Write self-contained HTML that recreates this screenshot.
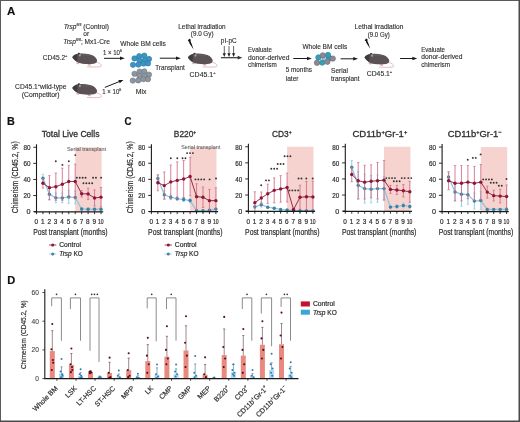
<!DOCTYPE html>
<html><head><meta charset="utf-8"><title>Figure</title>
<style>
html,body{margin:0;padding:0;background:#fff;}
body{width:520px;height:422px;overflow:hidden;position:relative;}
svg{display:block;will-change:transform;}
text{font-family:"Liberation Sans", sans-serif;}
</style></head>
<body>
<svg width="520" height="422" viewBox="0 0 520 422">
<rect x="0" y="0" width="520" height="422" fill="#ffffff"/>
<text x="6.90" y="14.87" font-size="10.2" font-weight="bold" fill="#111" stroke="#111" stroke-width="0.12" textLength="8.30" lengthAdjust="spacingAndGlyphs">A</text>
<text x="86.30" y="28.58" font-size="6.6" text-anchor="middle" fill="#2e2e2e" stroke="#2e2e2e" stroke-width="0.12"><tspan font-style="italic">Trsp</tspan><tspan baseline-shift="2.97" font-size="3.96">fl/fl</tspan> (Control)</text>
<text x="86.30" y="36.38" font-size="6.6" text-anchor="middle" fill="#2e2e2e" stroke="#2e2e2e" stroke-width="0.12">or</text>
<text x="86.50" y="43.88" font-size="6.6" text-anchor="middle" fill="#2e2e2e" stroke="#2e2e2e" stroke-width="0.12"><tspan font-style="italic">Trsp</tspan><tspan baseline-shift="2.97" font-size="3.96">fl/fl</tspan>; Mx1-Cre</text>
<text x="42.70" y="60.08" font-size="6.6" fill="#2e2e2e" stroke="#2e2e2e" stroke-width="0.12">CD45.2<tspan baseline-shift="2.97" font-size="3.96">+</tspan></text>
<text x="15.10" y="89.18" font-size="6.6" fill="#2e2e2e" stroke="#2e2e2e" stroke-width="0.12" textLength="51.40" lengthAdjust="spacingAndGlyphs">CD45.1<tspan baseline-shift="2.97" font-size="3.96">+</tspan>wild-type</text>
<text x="21.80" y="96.58" font-size="6.6" fill="#2e2e2e" stroke="#2e2e2e" stroke-width="0.12" textLength="37.70" lengthAdjust="spacingAndGlyphs">(Competitor)</text>
<g transform="translate(72.30,57.30) scale(1.0,1.0)"><path d="M23.6,4.8 C27.4,5.4 29.6,7.4 29.0,8.8 C28.2,9.9 22,9.8 14.6,9.5" fill="none" stroke="#d8a6a8" stroke-width="0.75"/><path d="M3.8,5.0 L4.6,6.6 L6.8,6.9 L6.6,5.4 Z" fill="#dcb0ae"/><path d="M14.6,6.2 L16.0,8.2 L18.6,8.4 L18.2,6.4 Z" fill="#dcb0ae"/><path d="M0,0 C0.6,-1.2 1.6,-2.0 2.6,-2.5 L5.2,-3.6 C5.8,-4.6 7.2,-5.0 7.8,-3.8 C11,-3.8 16,-3.6 19.5,-2.4 C22.5,-1.2 24.6,1.2 24.8,3.2 C24.9,4.8 23.8,6.0 21.5,6.4 C18,6.9 13,6.8 10,6.4 C7.6,6.1 5.8,5.6 4.8,4.8 C3.2,3.6 1.2,2.0 0,0 Z" fill="#5a5254"/><path d="M0,0 C0.6,-1.2 1.6,-2.0 2.6,-2.5 L4.6,-3.3 C5.2,-1.6 5.2,1.8 4.4,4.4 C3,3.4 1.2,1.9 0,0 Z" fill="#403a3c"/><path d="M9,-3.2 C13,-3.4 17,-3.0 20,-1.6 C17,-1.0 13,-1.2 9,-1.8 Z" fill="#625a5c"/><ellipse cx="6.6" cy="-3.5" rx="0.9" ry="1.0" fill="#3a3436"/><ellipse cx="7.6" cy="-2.0" rx="1.0" ry="1.3" fill="#a8979b"/></g>
<g transform="translate(72.30,87.90) scale(1.0,1.0)"><path d="M23.6,4.8 C27.4,5.4 29.6,7.4 29.0,8.8 C28.2,9.9 22,9.8 14.6,9.5" fill="none" stroke="#d8a6a8" stroke-width="0.75"/><path d="M3.8,5.0 L4.6,6.6 L6.8,6.9 L6.6,5.4 Z" fill="#dcb0ae"/><path d="M14.6,6.2 L16.0,8.2 L18.6,8.4 L18.2,6.4 Z" fill="#dcb0ae"/><path d="M0,0 C0.6,-1.2 1.6,-2.0 2.6,-2.5 L5.2,-3.6 C5.8,-4.6 7.2,-5.0 7.8,-3.8 C11,-3.8 16,-3.6 19.5,-2.4 C22.5,-1.2 24.6,1.2 24.8,3.2 C24.9,4.8 23.8,6.0 21.5,6.4 C18,6.9 13,6.8 10,6.4 C7.6,6.1 5.8,5.6 4.8,4.8 C3.2,3.6 1.2,2.0 0,0 Z" fill="#5a5254"/><path d="M0,0 C0.6,-1.2 1.6,-2.0 2.6,-2.5 L4.6,-3.3 C5.2,-1.6 5.2,1.8 4.4,4.4 C3,3.4 1.2,1.9 0,0 Z" fill="#403a3c"/><path d="M9,-3.2 C13,-3.4 17,-3.0 20,-1.6 C17,-1.0 13,-1.2 9,-1.8 Z" fill="#625a5c"/><ellipse cx="6.6" cy="-3.5" rx="0.9" ry="1.0" fill="#3a3436"/><ellipse cx="7.6" cy="-2.0" rx="1.0" ry="1.3" fill="#a8979b"/></g>
<line x1="104.00" y1="58.30" x2="121.44" y2="58.30" stroke="#1a1a1a" stroke-width="1.0"/>
<path d="M124.80,58.30 L120.00,60.10 L120.00,56.50 Z" fill="#1a1a1a"/>
<text x="102.90" y="54.78" font-size="6.6" fill="#2e2e2e" stroke="#2e2e2e" stroke-width="0.12" textLength="19.00" lengthAdjust="spacingAndGlyphs">1 × 10<tspan baseline-shift="2.97" font-size="3.96">6</tspan></text>
<line x1="104.80" y1="87.40" x2="120.38" y2="81.15" stroke="#1a1a1a" stroke-width="1.0"/>
<path d="M123.50,79.90 L119.72,83.36 L118.37,80.02 Z" fill="#1a1a1a"/>
<text x="102.30" y="93.98" font-size="6.6" fill="#2e2e2e" stroke="#2e2e2e" stroke-width="0.12" textLength="19.00" lengthAdjust="spacingAndGlyphs">1 × 10<tspan baseline-shift="2.97" font-size="3.96">6</tspan></text>
<text x="143.00" y="46.48" font-size="6.6" text-anchor="middle" fill="#2e2e2e" stroke="#2e2e2e" stroke-width="0.12">Whole BM cells</text>
<circle cx="134.50" cy="58.40" r="2.65" fill="#3b96c4" stroke="#2a76a2" stroke-width="0.6"/>
<circle cx="139.20" cy="56.20" r="2.65" fill="#3b96c4" stroke="#2a76a2" stroke-width="0.6"/>
<circle cx="144.30" cy="55.60" r="2.65" fill="#3b96c4" stroke="#2a76a2" stroke-width="0.6"/>
<circle cx="149.00" cy="59.00" r="2.65" fill="#3b96c4" stroke="#2a76a2" stroke-width="0.6"/>
<circle cx="139.60" cy="60.60" r="2.65" fill="#3b96c4" stroke="#2a76a2" stroke-width="0.6"/>
<circle cx="144.80" cy="60.20" r="2.65" fill="#3b96c4" stroke="#2a76a2" stroke-width="0.6"/>
<circle cx="133.00" cy="64.80" r="2.65" fill="#3b96c4" stroke="#2a76a2" stroke-width="0.6"/>
<circle cx="138.40" cy="64.60" r="2.65" fill="#3b96c4" stroke="#2a76a2" stroke-width="0.6"/>
<circle cx="143.60" cy="63.60" r="2.65" fill="#3b96c4" stroke="#2a76a2" stroke-width="0.6"/>
<circle cx="148.00" cy="63.40" r="2.65" fill="#3b96c4" stroke="#2a76a2" stroke-width="0.6"/>
<circle cx="134.50" cy="73.80" r="2.65" fill="#8d97a1" stroke="#6b757f" stroke-width="0.6"/>
<circle cx="139.60" cy="71.60" r="2.65" fill="#8d97a1" stroke="#6b757f" stroke-width="0.6"/>
<circle cx="144.30" cy="71.40" r="2.65" fill="#8d97a1" stroke="#6b757f" stroke-width="0.6"/>
<circle cx="149.00" cy="74.60" r="2.65" fill="#8d97a1" stroke="#6b757f" stroke-width="0.6"/>
<circle cx="139.40" cy="75.80" r="2.65" fill="#8d97a1" stroke="#6b757f" stroke-width="0.6"/>
<circle cx="144.60" cy="75.80" r="2.65" fill="#8d97a1" stroke="#6b757f" stroke-width="0.6"/>
<circle cx="132.80" cy="80.60" r="2.65" fill="#8d97a1" stroke="#6b757f" stroke-width="0.6"/>
<circle cx="138.20" cy="80.40" r="2.65" fill="#8d97a1" stroke="#6b757f" stroke-width="0.6"/>
<circle cx="143.40" cy="79.20" r="2.65" fill="#8d97a1" stroke="#6b757f" stroke-width="0.6"/>
<circle cx="148.00" cy="79.20" r="2.65" fill="#8d97a1" stroke="#6b757f" stroke-width="0.6"/>
<text x="135.80" y="93.78" font-size="6.6" fill="#2e2e2e" stroke="#2e2e2e" stroke-width="0.12" textLength="10.70" lengthAdjust="spacingAndGlyphs">Mix</text>
<line x1="159.80" y1="58.20" x2="177.44" y2="58.20" stroke="#1a1a1a" stroke-width="1.0"/>
<path d="M180.80,58.20 L176.00,60.00 L176.00,56.40 Z" fill="#1a1a1a"/>
<text x="155.20" y="69.68" font-size="6.6" fill="#2e2e2e" stroke="#2e2e2e" stroke-width="0.12" textLength="29.50" lengthAdjust="spacingAndGlyphs">Transplant</text>
<text x="178.30" y="28.68" font-size="6.6" fill="#2e2e2e" stroke="#2e2e2e" stroke-width="0.12" textLength="47.30" lengthAdjust="spacingAndGlyphs">Lethal irradiation</text>
<text x="190.80" y="36.48" font-size="6.6" fill="#2e2e2e" stroke="#2e2e2e" stroke-width="0.12" textLength="22.70" lengthAdjust="spacingAndGlyphs">(9.0 Gy)</text>
<path transform="translate(189.4,39.0) scale(1.0)" d="M-0.3,-0.3 L1.3,0.5 L1.2,2.6 L2.1,4.4 L4.2,10.4 L0.8,5.6 L-0.1,3.9 L-0.4,2.6 L-1.7,1.9 Z" fill="#111"/>
<g transform="translate(187.90,57.40) scale(1.0,1.0)"><path d="M23.6,4.8 C27.4,5.4 29.6,7.4 29.0,8.8 C28.2,9.9 22,9.8 14.6,9.5" fill="none" stroke="#d8a6a8" stroke-width="0.75"/><path d="M3.8,5.0 L4.6,6.6 L6.8,6.9 L6.6,5.4 Z" fill="#dcb0ae"/><path d="M14.6,6.2 L16.0,8.2 L18.6,8.4 L18.2,6.4 Z" fill="#dcb0ae"/><path d="M0,0 C0.6,-1.2 1.6,-2.0 2.6,-2.5 L5.2,-3.6 C5.8,-4.6 7.2,-5.0 7.8,-3.8 C11,-3.8 16,-3.6 19.5,-2.4 C22.5,-1.2 24.6,1.2 24.8,3.2 C24.9,4.8 23.8,6.0 21.5,6.4 C18,6.9 13,6.8 10,6.4 C7.6,6.1 5.8,5.6 4.8,4.8 C3.2,3.6 1.2,2.0 0,0 Z" fill="#5a5254"/><path d="M0,0 C0.6,-1.2 1.6,-2.0 2.6,-2.5 L4.6,-3.3 C5.2,-1.6 5.2,1.8 4.4,4.4 C3,3.4 1.2,1.9 0,0 Z" fill="#403a3c"/><path d="M9,-3.2 C13,-3.4 17,-3.0 20,-1.6 C17,-1.0 13,-1.2 9,-1.8 Z" fill="#625a5c"/><ellipse cx="6.6" cy="-3.5" rx="0.9" ry="1.0" fill="#3a3436"/><ellipse cx="7.6" cy="-2.0" rx="1.0" ry="1.3" fill="#a8979b"/></g>
<text x="189.60" y="76.78" font-size="6.6" fill="#2e2e2e" stroke="#2e2e2e" stroke-width="0.12" textLength="26.00" lengthAdjust="spacingAndGlyphs">CD45.1<tspan baseline-shift="2.97" font-size="3.96">+</tspan></text>
<text x="220.80" y="43.00" font-size="6.4" fill="#2e2e2e" stroke="#2e2e2e" stroke-width="0.12" textLength="15.90" lengthAdjust="spacingAndGlyphs">pI-pC</text>
<line x1="220.90" y1="57.70" x2="239.08" y2="57.70" stroke="#333" stroke-width="1.2"/>
<path d="M242.30,57.70 L237.70,59.60 L237.70,55.80 Z" fill="#333"/>
<line x1="224.30" y1="46.00" x2="224.30" y2="54.34" stroke="#222" stroke-width="0.7"/>
<path d="M224.30,57.00 L222.70,53.20 L225.90,53.20 Z" fill="#222"/>
<line x1="229.00" y1="46.00" x2="229.00" y2="54.34" stroke="#222" stroke-width="0.7"/>
<path d="M229.00,57.00 L227.40,53.20 L230.60,53.20 Z" fill="#222"/>
<line x1="233.60" y1="46.00" x2="233.60" y2="54.34" stroke="#222" stroke-width="0.7"/>
<path d="M233.60,57.00 L232.00,53.20 L235.20,53.20 Z" fill="#222"/>
<text x="248.00" y="51.98" font-size="6.6" fill="#2e2e2e" stroke="#2e2e2e" stroke-width="0.12" textLength="23.80" lengthAdjust="spacingAndGlyphs">Evaluate</text>
<text x="248.00" y="59.58" font-size="6.6" fill="#2e2e2e" stroke="#2e2e2e" stroke-width="0.12" textLength="41.40" lengthAdjust="spacingAndGlyphs">donor-derived</text>
<text x="248.00" y="67.18" font-size="6.6" fill="#2e2e2e" stroke="#2e2e2e" stroke-width="0.12" textLength="28.80" lengthAdjust="spacingAndGlyphs">chimerism</text>
<line x1="293.30" y1="58.50" x2="308.44" y2="58.50" stroke="#1a1a1a" stroke-width="1.0"/>
<path d="M311.80,58.50 L307.00,60.30 L307.00,56.70 Z" fill="#1a1a1a"/>
<text x="285.70" y="72.48" font-size="6.6" fill="#2e2e2e" stroke="#2e2e2e" stroke-width="0.12" textLength="26.20" lengthAdjust="spacingAndGlyphs">5 months</text>
<text x="285.70" y="80.58" font-size="6.6" fill="#2e2e2e" stroke="#2e2e2e" stroke-width="0.12">later</text>
<text x="302.40" y="49.28" font-size="6.6" fill="#2e2e2e" stroke="#2e2e2e" stroke-width="0.12" textLength="44.80" lengthAdjust="spacingAndGlyphs">Whole BM cells</text>
<circle cx="324.60" cy="58.60" r="2.7" fill="#9cc8dc" stroke="#7fb0c8" stroke-width="0.6"/>
<circle cx="329.40" cy="58.20" r="2.7" fill="#3a9db5" stroke="#237f96" stroke-width="0.6"/>
<circle cx="318.40" cy="57.40" r="2.7" fill="#3a9db5" stroke="#237f96" stroke-width="0.6"/>
<circle cx="322.80" cy="55.40" r="2.7" fill="#8e8896" stroke="#6e6878" stroke-width="0.6"/>
<circle cx="328.00" cy="55.00" r="2.7" fill="#3a9db5" stroke="#237f96" stroke-width="0.6"/>
<circle cx="332.80" cy="58.60" r="2.7" fill="#8e8896" stroke="#6e6878" stroke-width="0.6"/>
<circle cx="317.00" cy="62.80" r="2.7" fill="#8e8896" stroke="#6e6878" stroke-width="0.6"/>
<circle cx="322.20" cy="62.60" r="2.7" fill="#3a9db5" stroke="#237f96" stroke-width="0.6"/>
<circle cx="327.40" cy="61.80" r="2.7" fill="#8e8896" stroke="#6e6878" stroke-width="0.6"/>
<line x1="340.60" y1="58.80" x2="354.64" y2="58.80" stroke="#1a1a1a" stroke-width="1.0"/>
<path d="M358.00,58.80 L353.20,60.60 L353.20,57.00 Z" fill="#1a1a1a"/>
<text x="331.00" y="72.98" font-size="6.6" fill="#2e2e2e" stroke="#2e2e2e" stroke-width="0.12">Serial</text>
<text x="331.00" y="80.98" font-size="6.6" fill="#2e2e2e" stroke="#2e2e2e" stroke-width="0.12" textLength="28.50" lengthAdjust="spacingAndGlyphs">transplant</text>
<text x="379.00" y="28.98" font-size="6.6" text-anchor="middle" fill="#2e2e2e" stroke="#2e2e2e" stroke-width="0.12">Lethal irradiation</text>
<text x="367.80" y="36.98" font-size="6.6" fill="#2e2e2e" stroke="#2e2e2e" stroke-width="0.12" textLength="21.90" lengthAdjust="spacingAndGlyphs">(9.0 Gy)</text>
<path transform="translate(366.3,38.8) scale(0.95)" d="M-0.3,-0.3 L1.3,0.5 L1.2,2.6 L2.1,4.4 L4.2,10.4 L0.8,5.6 L-0.1,3.9 L-0.4,2.6 L-1.7,1.9 Z" fill="#111"/>
<g transform="translate(364.50,57.60) scale(1.0,1.0)"><path d="M23.6,4.8 C27.4,5.4 29.6,7.4 29.0,8.8 C28.2,9.9 22,9.8 14.6,9.5" fill="none" stroke="#d8a6a8" stroke-width="0.75"/><path d="M3.8,5.0 L4.6,6.6 L6.8,6.9 L6.6,5.4 Z" fill="#dcb0ae"/><path d="M14.6,6.2 L16.0,8.2 L18.6,8.4 L18.2,6.4 Z" fill="#dcb0ae"/><path d="M0,0 C0.6,-1.2 1.6,-2.0 2.6,-2.5 L5.2,-3.6 C5.8,-4.6 7.2,-5.0 7.8,-3.8 C11,-3.8 16,-3.6 19.5,-2.4 C22.5,-1.2 24.6,1.2 24.8,3.2 C24.9,4.8 23.8,6.0 21.5,6.4 C18,6.9 13,6.8 10,6.4 C7.6,6.1 5.8,5.6 4.8,4.8 C3.2,3.6 1.2,2.0 0,0 Z" fill="#5a5254"/><path d="M0,0 C0.6,-1.2 1.6,-2.0 2.6,-2.5 L4.6,-3.3 C5.2,-1.6 5.2,1.8 4.4,4.4 C3,3.4 1.2,1.9 0,0 Z" fill="#403a3c"/><path d="M9,-3.2 C13,-3.4 17,-3.0 20,-1.6 C17,-1.0 13,-1.2 9,-1.8 Z" fill="#625a5c"/><ellipse cx="6.6" cy="-3.5" rx="0.9" ry="1.0" fill="#3a3436"/><ellipse cx="7.6" cy="-2.0" rx="1.0" ry="1.3" fill="#a8979b"/></g>
<text x="366.80" y="76.28" font-size="6.6" fill="#2e2e2e" stroke="#2e2e2e" stroke-width="0.12" textLength="25.40" lengthAdjust="spacingAndGlyphs">CD45.1<tspan baseline-shift="2.97" font-size="3.96">+</tspan></text>
<line x1="400.10" y1="58.50" x2="413.84" y2="58.50" stroke="#1a1a1a" stroke-width="1.0"/>
<path d="M417.20,58.50 L412.40,60.30 L412.40,56.70 Z" fill="#1a1a1a"/>
<text x="421.20" y="51.88" font-size="6.6" fill="#2e2e2e" stroke="#2e2e2e" stroke-width="0.12" textLength="23.80" lengthAdjust="spacingAndGlyphs">Evaluate</text>
<text x="421.20" y="59.48" font-size="6.6" fill="#2e2e2e" stroke="#2e2e2e" stroke-width="0.12" textLength="41.40" lengthAdjust="spacingAndGlyphs">donor-derived</text>
<text x="421.20" y="67.08" font-size="6.6" fill="#2e2e2e" stroke="#2e2e2e" stroke-width="0.12" textLength="28.80" lengthAdjust="spacingAndGlyphs">chimerism</text>
<text x="6.90" y="124.67" font-size="10.2" font-weight="bold" fill="#111" stroke="#111" stroke-width="0.2" textLength="7.80" lengthAdjust="spacingAndGlyphs">B</text>
<text x="124.50" y="124.67" font-size="10.2" font-weight="bold" fill="#111" stroke="#111" stroke-width="0.2" textLength="7.00" lengthAdjust="spacingAndGlyphs">C</text>
<rect x="75.20" y="147.28" width="26.40" height="64.32" fill="#f6d3cf"/>
<text x="67.00" y="151.36" font-size="4.9" fill="#5a5a5a" stroke="#5a5a5a" stroke-width="0.05" textLength="39.00" lengthAdjust="spacingAndGlyphs">Serial transplant</text>
<text x="41.70" y="137.45" font-size="9.3" fill="#2e2e2e" stroke="#2e2e2e" stroke-width="0.3" textLength="57.80" lengthAdjust="spacingAndGlyphs">Total Live Cells</text>
<line x1="42.95" y1="174.29" x2="42.95" y2="182.33" stroke="#86c9e6" stroke-width="0.9"/>
<line x1="41.75" y1="174.29" x2="44.15" y2="174.29" stroke="#86c9e6" stroke-width="0.7"/>
<line x1="41.75" y1="182.33" x2="44.15" y2="182.33" stroke="#86c9e6" stroke-width="0.7"/>
<line x1="49.40" y1="188.61" x2="49.40" y2="199.86" stroke="#86c9e6" stroke-width="0.9"/>
<line x1="48.20" y1="188.61" x2="50.60" y2="188.61" stroke="#86c9e6" stroke-width="0.7"/>
<line x1="48.20" y1="199.86" x2="50.60" y2="199.86" stroke="#86c9e6" stroke-width="0.7"/>
<line x1="55.85" y1="193.03" x2="55.85" y2="202.68" stroke="#86c9e6" stroke-width="0.9"/>
<line x1="54.65" y1="193.03" x2="57.05" y2="193.03" stroke="#86c9e6" stroke-width="0.7"/>
<line x1="54.65" y1="202.68" x2="57.05" y2="202.68" stroke="#86c9e6" stroke-width="0.7"/>
<line x1="62.30" y1="193.11" x2="62.30" y2="202.76" stroke="#86c9e6" stroke-width="0.9"/>
<line x1="61.10" y1="193.11" x2="63.50" y2="193.11" stroke="#86c9e6" stroke-width="0.7"/>
<line x1="61.10" y1="202.76" x2="63.50" y2="202.76" stroke="#86c9e6" stroke-width="0.7"/>
<line x1="68.75" y1="190.54" x2="68.75" y2="203.40" stroke="#86c9e6" stroke-width="0.9"/>
<line x1="67.55" y1="190.54" x2="69.95" y2="190.54" stroke="#86c9e6" stroke-width="0.7"/>
<line x1="67.55" y1="203.40" x2="69.95" y2="203.40" stroke="#86c9e6" stroke-width="0.7"/>
<line x1="75.20" y1="191.02" x2="75.20" y2="203.88" stroke="#86c9e6" stroke-width="0.9"/>
<line x1="74.00" y1="191.02" x2="76.40" y2="191.02" stroke="#86c9e6" stroke-width="0.7"/>
<line x1="74.00" y1="203.88" x2="76.40" y2="203.88" stroke="#86c9e6" stroke-width="0.7"/>
<line x1="81.65" y1="207.82" x2="81.65" y2="210.23" stroke="#86c9e6" stroke-width="0.9"/>
<line x1="80.45" y1="207.82" x2="82.85" y2="207.82" stroke="#86c9e6" stroke-width="0.7"/>
<line x1="80.45" y1="210.23" x2="82.85" y2="210.23" stroke="#86c9e6" stroke-width="0.7"/>
<line x1="88.10" y1="207.98" x2="88.10" y2="210.39" stroke="#86c9e6" stroke-width="0.9"/>
<line x1="86.90" y1="207.98" x2="89.30" y2="207.98" stroke="#86c9e6" stroke-width="0.7"/>
<line x1="86.90" y1="210.39" x2="89.30" y2="210.39" stroke="#86c9e6" stroke-width="0.7"/>
<line x1="94.55" y1="207.98" x2="94.55" y2="210.39" stroke="#86c9e6" stroke-width="0.9"/>
<line x1="93.35" y1="207.98" x2="95.75" y2="207.98" stroke="#86c9e6" stroke-width="0.7"/>
<line x1="93.35" y1="210.39" x2="95.75" y2="210.39" stroke="#86c9e6" stroke-width="0.7"/>
<line x1="101.00" y1="207.98" x2="101.00" y2="210.39" stroke="#86c9e6" stroke-width="0.9"/>
<line x1="99.80" y1="207.98" x2="102.20" y2="207.98" stroke="#86c9e6" stroke-width="0.7"/>
<line x1="99.80" y1="210.39" x2="102.20" y2="210.39" stroke="#86c9e6" stroke-width="0.7"/>
<polyline points="42.95,178.31 49.40,194.23 55.85,197.85 62.30,197.93 68.75,196.97 75.20,197.45 81.65,209.03 88.10,209.19 94.55,209.19 101.00,209.19" fill="none" stroke="#8cc4dc" stroke-width="1.2"/>
<circle cx="42.95" cy="178.31" r="1.7" fill="#3d82a4"/>
<circle cx="49.40" cy="194.23" r="1.7" fill="#3d82a4"/>
<circle cx="55.85" cy="197.85" r="1.7" fill="#3d82a4"/>
<circle cx="62.30" cy="197.93" r="1.7" fill="#3d82a4"/>
<circle cx="68.75" cy="196.97" r="1.7" fill="#3d82a4"/>
<circle cx="75.20" cy="197.45" r="1.7" fill="#3d82a4"/>
<circle cx="81.65" cy="209.03" r="1.7" fill="#3d82a4"/>
<circle cx="88.10" cy="209.19" r="1.7" fill="#3d82a4"/>
<circle cx="94.55" cy="209.19" r="1.7" fill="#3d82a4"/>
<circle cx="101.00" cy="209.19" r="1.7" fill="#3d82a4"/>
<line x1="42.95" y1="178.48" x2="42.95" y2="188.12" stroke="#d06a84" stroke-width="0.85"/>
<line x1="41.75" y1="178.48" x2="44.15" y2="178.48" stroke="#d06a84" stroke-width="0.7"/>
<line x1="41.75" y1="188.12" x2="44.15" y2="188.12" stroke="#d06a84" stroke-width="0.7"/>
<line x1="49.40" y1="175.58" x2="49.40" y2="199.70" stroke="#d06a84" stroke-width="0.85"/>
<line x1="48.20" y1="175.58" x2="50.60" y2="175.58" stroke="#d06a84" stroke-width="0.7"/>
<line x1="48.20" y1="199.70" x2="50.60" y2="199.70" stroke="#d06a84" stroke-width="0.7"/>
<line x1="55.85" y1="173.01" x2="55.85" y2="200.34" stroke="#d06a84" stroke-width="0.85"/>
<line x1="54.65" y1="173.01" x2="57.05" y2="173.01" stroke="#d06a84" stroke-width="0.7"/>
<line x1="54.65" y1="200.34" x2="57.05" y2="200.34" stroke="#d06a84" stroke-width="0.7"/>
<line x1="62.30" y1="168.18" x2="62.30" y2="200.34" stroke="#d06a84" stroke-width="0.85"/>
<line x1="61.10" y1="168.18" x2="63.50" y2="168.18" stroke="#d06a84" stroke-width="0.7"/>
<line x1="61.10" y1="200.34" x2="63.50" y2="200.34" stroke="#d06a84" stroke-width="0.7"/>
<line x1="68.75" y1="165.37" x2="68.75" y2="197.53" stroke="#d06a84" stroke-width="0.85"/>
<line x1="67.55" y1="165.37" x2="69.95" y2="165.37" stroke="#d06a84" stroke-width="0.7"/>
<line x1="67.55" y1="197.53" x2="69.95" y2="197.53" stroke="#d06a84" stroke-width="0.7"/>
<line x1="75.20" y1="164.16" x2="75.20" y2="198.74" stroke="#d06a84" stroke-width="0.85"/>
<line x1="74.00" y1="164.16" x2="76.40" y2="164.16" stroke="#d06a84" stroke-width="0.7"/>
<line x1="74.00" y1="198.74" x2="76.40" y2="198.74" stroke="#d06a84" stroke-width="0.7"/>
<line x1="81.65" y1="190.54" x2="81.65" y2="196.97" stroke="#d06a84" stroke-width="0.85"/>
<line x1="80.45" y1="190.54" x2="82.85" y2="190.54" stroke="#d06a84" stroke-width="0.7"/>
<line x1="80.45" y1="196.97" x2="82.85" y2="196.97" stroke="#d06a84" stroke-width="0.7"/>
<line x1="88.10" y1="188.28" x2="88.10" y2="199.54" stroke="#d06a84" stroke-width="0.85"/>
<line x1="86.90" y1="188.28" x2="89.30" y2="188.28" stroke="#d06a84" stroke-width="0.7"/>
<line x1="86.90" y1="199.54" x2="89.30" y2="199.54" stroke="#d06a84" stroke-width="0.7"/>
<line x1="94.55" y1="189.89" x2="94.55" y2="205.97" stroke="#d06a84" stroke-width="0.85"/>
<line x1="93.35" y1="189.89" x2="95.75" y2="189.89" stroke="#d06a84" stroke-width="0.7"/>
<line x1="93.35" y1="205.97" x2="95.75" y2="205.97" stroke="#d06a84" stroke-width="0.7"/>
<line x1="101.00" y1="187.48" x2="101.00" y2="206.78" stroke="#d06a84" stroke-width="0.85"/>
<line x1="99.80" y1="187.48" x2="102.20" y2="187.48" stroke="#d06a84" stroke-width="0.7"/>
<line x1="99.80" y1="206.78" x2="102.20" y2="206.78" stroke="#d06a84" stroke-width="0.7"/>
<polyline points="42.95,183.30 49.40,187.64 55.85,186.68 62.30,184.26 68.75,181.45 75.20,181.45 81.65,193.75 88.10,193.91 94.55,197.93 101.00,197.13" fill="none" stroke="#8c1538" stroke-width="0.9"/>
<circle cx="42.95" cy="183.30" r="1.7" fill="#8c1538"/>
<circle cx="49.40" cy="187.64" r="1.7" fill="#8c1538"/>
<circle cx="55.85" cy="186.68" r="1.7" fill="#8c1538"/>
<circle cx="62.30" cy="184.26" r="1.7" fill="#8c1538"/>
<circle cx="68.75" cy="181.45" r="1.7" fill="#8c1538"/>
<circle cx="75.20" cy="181.45" r="1.7" fill="#8c1538"/>
<circle cx="81.65" cy="193.75" r="1.7" fill="#8c1538"/>
<circle cx="88.10" cy="193.91" r="1.7" fill="#8c1538"/>
<circle cx="94.55" cy="197.93" r="1.7" fill="#8c1538"/>
<circle cx="101.00" cy="197.13" r="1.7" fill="#8c1538"/>
<circle cx="55.80" cy="161.30" r="0.95" fill="#333"/>
<circle cx="62.40" cy="164.90" r="0.95" fill="#333"/>
<circle cx="68.80" cy="161.30" r="0.95" fill="#333"/>
<circle cx="75.30" cy="155.10" r="0.95" fill="#333"/>
<circle cx="76.85" cy="177.70" r="0.95" fill="#333"/>
<circle cx="79.75" cy="177.70" r="0.95" fill="#333"/>
<circle cx="82.65" cy="177.70" r="0.95" fill="#333"/>
<circle cx="85.55" cy="177.70" r="0.95" fill="#333"/>
<circle cx="83.45" cy="183.20" r="0.95" fill="#333"/>
<circle cx="86.35" cy="183.20" r="0.95" fill="#333"/>
<circle cx="89.25" cy="183.20" r="0.95" fill="#333"/>
<circle cx="92.15" cy="183.20" r="0.95" fill="#333"/>
<circle cx="93.05" cy="177.70" r="0.95" fill="#333"/>
<circle cx="95.95" cy="177.70" r="0.95" fill="#333"/>
<circle cx="101.10" cy="177.70" r="0.95" fill="#333"/>
<line x1="36.50" y1="144.28" x2="36.50" y2="212.10" stroke="#1a1a1a" stroke-width="1.1"/>
<line x1="34.10" y1="211.80" x2="103.20" y2="211.80" stroke="#1a1a1a" stroke-width="1.3"/>
<line x1="33.30" y1="211.60" x2="36.50" y2="211.60" stroke="#1a1a1a" stroke-width="0.9"/>
<text x="30.40" y="214.39" font-size="7.2" text-anchor="end" fill="#2e2e2e" stroke="#2e2e2e" stroke-width="0.2">0</text>
<line x1="33.30" y1="195.52" x2="36.50" y2="195.52" stroke="#1a1a1a" stroke-width="0.9"/>
<text x="30.40" y="198.31" font-size="7.2" text-anchor="end" fill="#2e2e2e" stroke="#2e2e2e" stroke-width="0.2" textLength="7.00" lengthAdjust="spacingAndGlyphs">20</text>
<line x1="33.30" y1="179.44" x2="36.50" y2="179.44" stroke="#1a1a1a" stroke-width="0.9"/>
<text x="30.40" y="182.23" font-size="7.2" text-anchor="end" fill="#2e2e2e" stroke="#2e2e2e" stroke-width="0.2" textLength="7.00" lengthAdjust="spacingAndGlyphs">40</text>
<line x1="33.30" y1="163.36" x2="36.50" y2="163.36" stroke="#1a1a1a" stroke-width="0.9"/>
<text x="30.40" y="166.15" font-size="7.2" text-anchor="end" fill="#2e2e2e" stroke="#2e2e2e" stroke-width="0.2" textLength="7.00" lengthAdjust="spacingAndGlyphs">60</text>
<line x1="33.30" y1="147.28" x2="36.50" y2="147.28" stroke="#1a1a1a" stroke-width="0.9"/>
<text x="30.40" y="150.07" font-size="7.2" text-anchor="end" fill="#2e2e2e" stroke="#2e2e2e" stroke-width="0.2" textLength="7.00" lengthAdjust="spacingAndGlyphs">80</text>
<line x1="36.50" y1="211.60" x2="36.50" y2="214.20" stroke="#1a1a1a" stroke-width="0.9"/>
<text x="36.30" y="223.50" font-size="6.4" text-anchor="middle" fill="#2e2e2e" stroke="#2e2e2e" stroke-width="0.2">0</text>
<line x1="42.95" y1="211.60" x2="42.95" y2="214.20" stroke="#1a1a1a" stroke-width="0.9"/>
<text x="42.75" y="223.50" font-size="6.4" text-anchor="middle" fill="#2e2e2e" stroke="#2e2e2e" stroke-width="0.2">1</text>
<line x1="49.40" y1="211.60" x2="49.40" y2="214.20" stroke="#1a1a1a" stroke-width="0.9"/>
<text x="49.20" y="223.50" font-size="6.4" text-anchor="middle" fill="#2e2e2e" stroke="#2e2e2e" stroke-width="0.2">2</text>
<line x1="55.85" y1="211.60" x2="55.85" y2="214.20" stroke="#1a1a1a" stroke-width="0.9"/>
<text x="55.65" y="223.50" font-size="6.4" text-anchor="middle" fill="#2e2e2e" stroke="#2e2e2e" stroke-width="0.2">3</text>
<line x1="62.30" y1="211.60" x2="62.30" y2="214.20" stroke="#1a1a1a" stroke-width="0.9"/>
<text x="62.10" y="223.50" font-size="6.4" text-anchor="middle" fill="#2e2e2e" stroke="#2e2e2e" stroke-width="0.2">4</text>
<line x1="68.75" y1="211.60" x2="68.75" y2="214.20" stroke="#1a1a1a" stroke-width="0.9"/>
<text x="68.55" y="223.50" font-size="6.4" text-anchor="middle" fill="#2e2e2e" stroke="#2e2e2e" stroke-width="0.2">5</text>
<line x1="75.20" y1="211.60" x2="75.20" y2="214.20" stroke="#1a1a1a" stroke-width="0.9"/>
<text x="75.00" y="223.50" font-size="6.4" text-anchor="middle" fill="#2e2e2e" stroke="#2e2e2e" stroke-width="0.2">6</text>
<line x1="81.65" y1="211.60" x2="81.65" y2="214.20" stroke="#1a1a1a" stroke-width="0.9"/>
<text x="81.45" y="223.50" font-size="6.4" text-anchor="middle" fill="#2e2e2e" stroke="#2e2e2e" stroke-width="0.2">7</text>
<line x1="88.10" y1="211.60" x2="88.10" y2="214.20" stroke="#1a1a1a" stroke-width="0.9"/>
<text x="87.90" y="223.50" font-size="6.4" text-anchor="middle" fill="#2e2e2e" stroke="#2e2e2e" stroke-width="0.2">8</text>
<line x1="94.55" y1="211.60" x2="94.55" y2="214.20" stroke="#1a1a1a" stroke-width="0.9"/>
<text x="94.35" y="223.50" font-size="6.4" text-anchor="middle" fill="#2e2e2e" stroke="#2e2e2e" stroke-width="0.2">9</text>
<line x1="101.00" y1="211.60" x2="101.00" y2="214.20" stroke="#1a1a1a" stroke-width="0.9"/>
<text x="100.80" y="223.50" font-size="6.4" text-anchor="middle" fill="#2e2e2e" stroke="#2e2e2e" stroke-width="0.2" textLength="5.60" lengthAdjust="spacingAndGlyphs">10</text>
<text x="33.20" y="235.30" font-size="8.6" fill="#2e2e2e" stroke="#2e2e2e" stroke-width="0.2" textLength="74.40" lengthAdjust="spacingAndGlyphs">Post transplant (months)</text>
<text x="18.10" y="177.30" font-size="8.6" text-anchor="middle" fill="#2e2e2e" stroke="#2e2e2e" stroke-width="0.2" textLength="72.00" lengthAdjust="spacingAndGlyphs" transform="rotate(-90 18.10 177.30)">Chimerism (CD45.2, %)</text>
<line x1="49.10" y1="245.00" x2="56.30" y2="245.00" stroke="#8c1538" stroke-width="0.8"/>
<circle cx="52.70" cy="245.00" r="1.5" fill="#8c1538"/>
<text x="59.20" y="247.38" font-size="6.6" fill="#2e2e2e" stroke="#2e2e2e" stroke-width="0.2" textLength="21.80" lengthAdjust="spacingAndGlyphs">Control</text>
<line x1="49.10" y1="254.00" x2="56.30" y2="254.00" stroke="#8cc4dc" stroke-width="0.8"/>
<circle cx="52.70" cy="254.00" r="1.5" fill="#3d82a4"/>
<text x="59.20" y="256.38" font-size="6.6" fill="#2e2e2e" stroke="#2e2e2e" stroke-width="0.2" textLength="23.70" lengthAdjust="spacingAndGlyphs"><tspan font-style="italic">Trsp</tspan> KO</text>
<rect x="190.10" y="147.18" width="26.40" height="64.32" fill="#f6d3cf"/>
<text x="181.20" y="149.26" font-size="4.9" fill="#5a5a5a" stroke="#5a5a5a" stroke-width="0.05" textLength="39.00" lengthAdjust="spacingAndGlyphs">Serial transplant</text>
<text x="173.80" y="137.45" font-size="9.3" fill="#2e2e2e" stroke="#2e2e2e" stroke-width="0.3" textLength="22.50" lengthAdjust="spacingAndGlyphs">B220<tspan baseline-shift="3.4" font-size="5.6">+</tspan></text>
<line x1="157.85" y1="175.32" x2="157.85" y2="181.75" stroke="#86c9e6" stroke-width="0.9"/>
<line x1="156.65" y1="175.32" x2="159.05" y2="175.32" stroke="#86c9e6" stroke-width="0.7"/>
<line x1="156.65" y1="181.75" x2="159.05" y2="181.75" stroke="#86c9e6" stroke-width="0.7"/>
<line x1="164.30" y1="190.76" x2="164.30" y2="198.80" stroke="#86c9e6" stroke-width="0.9"/>
<line x1="163.10" y1="190.76" x2="165.50" y2="190.76" stroke="#86c9e6" stroke-width="0.7"/>
<line x1="163.10" y1="198.80" x2="165.50" y2="198.80" stroke="#86c9e6" stroke-width="0.7"/>
<line x1="170.75" y1="194.86" x2="170.75" y2="199.68" stroke="#86c9e6" stroke-width="0.9"/>
<line x1="169.55" y1="194.86" x2="171.95" y2="194.86" stroke="#86c9e6" stroke-width="0.7"/>
<line x1="169.55" y1="199.68" x2="171.95" y2="199.68" stroke="#86c9e6" stroke-width="0.7"/>
<line x1="177.20" y1="196.63" x2="177.20" y2="200.65" stroke="#86c9e6" stroke-width="0.9"/>
<line x1="176.00" y1="196.63" x2="178.40" y2="196.63" stroke="#86c9e6" stroke-width="0.7"/>
<line x1="176.00" y1="200.65" x2="178.40" y2="200.65" stroke="#86c9e6" stroke-width="0.7"/>
<line x1="183.65" y1="197.51" x2="183.65" y2="201.53" stroke="#86c9e6" stroke-width="0.9"/>
<line x1="182.45" y1="197.51" x2="184.85" y2="197.51" stroke="#86c9e6" stroke-width="0.7"/>
<line x1="182.45" y1="201.53" x2="184.85" y2="201.53" stroke="#86c9e6" stroke-width="0.7"/>
<line x1="190.10" y1="198.15" x2="190.10" y2="202.98" stroke="#86c9e6" stroke-width="0.9"/>
<line x1="188.90" y1="198.15" x2="191.30" y2="198.15" stroke="#86c9e6" stroke-width="0.7"/>
<line x1="188.90" y1="202.98" x2="191.30" y2="202.98" stroke="#86c9e6" stroke-width="0.7"/>
<line x1="196.55" y1="209.89" x2="196.55" y2="211.50" stroke="#86c9e6" stroke-width="0.9"/>
<line x1="195.35" y1="209.89" x2="197.75" y2="209.89" stroke="#86c9e6" stroke-width="0.7"/>
<line x1="203.00" y1="209.89" x2="203.00" y2="211.50" stroke="#86c9e6" stroke-width="0.9"/>
<line x1="201.80" y1="209.89" x2="204.20" y2="209.89" stroke="#86c9e6" stroke-width="0.7"/>
<line x1="209.45" y1="209.49" x2="209.45" y2="211.10" stroke="#86c9e6" stroke-width="0.9"/>
<line x1="208.25" y1="209.49" x2="210.65" y2="209.49" stroke="#86c9e6" stroke-width="0.7"/>
<line x1="208.25" y1="211.10" x2="210.65" y2="211.10" stroke="#86c9e6" stroke-width="0.7"/>
<line x1="215.90" y1="207.88" x2="215.90" y2="210.29" stroke="#86c9e6" stroke-width="0.9"/>
<line x1="214.70" y1="207.88" x2="217.10" y2="207.88" stroke="#86c9e6" stroke-width="0.7"/>
<line x1="214.70" y1="210.29" x2="217.10" y2="210.29" stroke="#86c9e6" stroke-width="0.7"/>
<polyline points="157.85,178.54 164.30,194.78 170.75,197.27 177.20,198.64 183.65,199.52 190.10,200.57 196.55,210.70 203.00,210.70 209.45,210.29 215.90,209.09" fill="none" stroke="#8cc4dc" stroke-width="1.2"/>
<circle cx="157.85" cy="178.54" r="1.7" fill="#3d82a4"/>
<circle cx="164.30" cy="194.78" r="1.7" fill="#3d82a4"/>
<circle cx="170.75" cy="197.27" r="1.7" fill="#3d82a4"/>
<circle cx="177.20" cy="198.64" r="1.7" fill="#3d82a4"/>
<circle cx="183.65" cy="199.52" r="1.7" fill="#3d82a4"/>
<circle cx="190.10" cy="200.57" r="1.7" fill="#3d82a4"/>
<circle cx="196.55" cy="210.70" r="1.7" fill="#3d82a4"/>
<circle cx="203.00" cy="210.70" r="1.7" fill="#3d82a4"/>
<circle cx="209.45" cy="210.29" r="1.7" fill="#3d82a4"/>
<circle cx="215.90" cy="209.09" r="1.7" fill="#3d82a4"/>
<line x1="157.85" y1="174.68" x2="157.85" y2="190.76" stroke="#d06a84" stroke-width="0.85"/>
<line x1="156.65" y1="174.68" x2="159.05" y2="174.68" stroke="#d06a84" stroke-width="0.7"/>
<line x1="156.65" y1="190.76" x2="159.05" y2="190.76" stroke="#d06a84" stroke-width="0.7"/>
<line x1="164.30" y1="171.94" x2="164.30" y2="199.28" stroke="#d06a84" stroke-width="0.85"/>
<line x1="163.10" y1="171.94" x2="165.50" y2="171.94" stroke="#d06a84" stroke-width="0.7"/>
<line x1="163.10" y1="199.28" x2="165.50" y2="199.28" stroke="#d06a84" stroke-width="0.7"/>
<line x1="170.75" y1="165.03" x2="170.75" y2="198.80" stroke="#d06a84" stroke-width="0.85"/>
<line x1="169.55" y1="165.03" x2="171.95" y2="165.03" stroke="#d06a84" stroke-width="0.7"/>
<line x1="169.55" y1="198.80" x2="171.95" y2="198.80" stroke="#d06a84" stroke-width="0.7"/>
<line x1="177.20" y1="161.89" x2="177.20" y2="198.88" stroke="#d06a84" stroke-width="0.85"/>
<line x1="176.00" y1="161.89" x2="178.40" y2="161.89" stroke="#d06a84" stroke-width="0.7"/>
<line x1="176.00" y1="198.88" x2="178.40" y2="198.88" stroke="#d06a84" stroke-width="0.7"/>
<line x1="183.65" y1="160.53" x2="183.65" y2="197.51" stroke="#d06a84" stroke-width="0.85"/>
<line x1="182.45" y1="160.53" x2="184.85" y2="160.53" stroke="#d06a84" stroke-width="0.7"/>
<line x1="182.45" y1="197.51" x2="184.85" y2="197.51" stroke="#d06a84" stroke-width="0.7"/>
<line x1="190.10" y1="157.23" x2="190.10" y2="195.82" stroke="#d06a84" stroke-width="0.85"/>
<line x1="188.90" y1="157.23" x2="191.30" y2="157.23" stroke="#d06a84" stroke-width="0.7"/>
<line x1="188.90" y1="195.82" x2="191.30" y2="195.82" stroke="#d06a84" stroke-width="0.7"/>
<line x1="196.55" y1="183.76" x2="196.55" y2="209.49" stroke="#d06a84" stroke-width="0.85"/>
<line x1="195.35" y1="183.76" x2="197.75" y2="183.76" stroke="#d06a84" stroke-width="0.7"/>
<line x1="195.35" y1="209.49" x2="197.75" y2="209.49" stroke="#d06a84" stroke-width="0.7"/>
<line x1="203.00" y1="187.06" x2="203.00" y2="207.48" stroke="#d06a84" stroke-width="0.85"/>
<line x1="201.80" y1="187.06" x2="204.20" y2="187.06" stroke="#d06a84" stroke-width="0.7"/>
<line x1="201.80" y1="207.48" x2="204.20" y2="207.48" stroke="#d06a84" stroke-width="0.7"/>
<line x1="209.45" y1="189.39" x2="209.45" y2="211.50" stroke="#d06a84" stroke-width="0.85"/>
<line x1="208.25" y1="189.39" x2="210.65" y2="189.39" stroke="#d06a84" stroke-width="0.7"/>
<line x1="215.90" y1="187.78" x2="215.90" y2="211.50" stroke="#d06a84" stroke-width="0.85"/>
<line x1="214.70" y1="187.78" x2="217.10" y2="187.78" stroke="#d06a84" stroke-width="0.7"/>
<polyline points="157.85,182.72 164.30,185.61 170.75,181.91 177.20,180.39 183.65,179.02 190.10,176.53 196.55,196.63 203.00,197.27 209.45,200.65 215.90,200.65" fill="none" stroke="#8c1538" stroke-width="0.9"/>
<circle cx="157.85" cy="182.72" r="1.7" fill="#8c1538"/>
<circle cx="164.30" cy="185.61" r="1.7" fill="#8c1538"/>
<circle cx="170.75" cy="181.91" r="1.7" fill="#8c1538"/>
<circle cx="177.20" cy="180.39" r="1.7" fill="#8c1538"/>
<circle cx="183.65" cy="179.02" r="1.7" fill="#8c1538"/>
<circle cx="190.10" cy="176.53" r="1.7" fill="#8c1538"/>
<circle cx="196.55" cy="196.63" r="1.7" fill="#8c1538"/>
<circle cx="203.00" cy="197.27" r="1.7" fill="#8c1538"/>
<circle cx="209.45" cy="200.65" r="1.7" fill="#8c1538"/>
<circle cx="215.90" cy="200.65" r="1.7" fill="#8c1538"/>
<circle cx="170.80" cy="158.30" r="0.95" fill="#333"/>
<circle cx="177.30" cy="158.30" r="0.95" fill="#333"/>
<circle cx="182.55" cy="158.30" r="0.95" fill="#333"/>
<circle cx="185.45" cy="158.30" r="0.95" fill="#333"/>
<circle cx="187.10" cy="153.10" r="0.95" fill="#333"/>
<circle cx="190.00" cy="153.10" r="0.95" fill="#333"/>
<circle cx="192.90" cy="153.10" r="0.95" fill="#333"/>
<circle cx="195.45" cy="179.40" r="0.95" fill="#333"/>
<circle cx="198.35" cy="179.40" r="0.95" fill="#333"/>
<circle cx="201.25" cy="179.40" r="0.95" fill="#333"/>
<circle cx="204.15" cy="179.40" r="0.95" fill="#333"/>
<circle cx="209.60" cy="179.40" r="0.95" fill="#333"/>
<circle cx="216.00" cy="178.50" r="0.95" fill="#333"/>
<line x1="151.40" y1="144.18" x2="151.40" y2="212.00" stroke="#1a1a1a" stroke-width="1.1"/>
<line x1="149.00" y1="211.70" x2="218.10" y2="211.70" stroke="#1a1a1a" stroke-width="1.3"/>
<line x1="148.20" y1="211.50" x2="151.40" y2="211.50" stroke="#1a1a1a" stroke-width="0.9"/>
<text x="145.30" y="214.29" font-size="7.2" text-anchor="end" fill="#2e2e2e" stroke="#2e2e2e" stroke-width="0.2">0</text>
<line x1="148.20" y1="195.42" x2="151.40" y2="195.42" stroke="#1a1a1a" stroke-width="0.9"/>
<text x="145.30" y="198.21" font-size="7.2" text-anchor="end" fill="#2e2e2e" stroke="#2e2e2e" stroke-width="0.2" textLength="7.00" lengthAdjust="spacingAndGlyphs">20</text>
<line x1="148.20" y1="179.34" x2="151.40" y2="179.34" stroke="#1a1a1a" stroke-width="0.9"/>
<text x="145.30" y="182.13" font-size="7.2" text-anchor="end" fill="#2e2e2e" stroke="#2e2e2e" stroke-width="0.2" textLength="7.00" lengthAdjust="spacingAndGlyphs">40</text>
<line x1="148.20" y1="163.26" x2="151.40" y2="163.26" stroke="#1a1a1a" stroke-width="0.9"/>
<text x="145.30" y="166.05" font-size="7.2" text-anchor="end" fill="#2e2e2e" stroke="#2e2e2e" stroke-width="0.2" textLength="7.00" lengthAdjust="spacingAndGlyphs">60</text>
<line x1="148.20" y1="147.18" x2="151.40" y2="147.18" stroke="#1a1a1a" stroke-width="0.9"/>
<text x="145.30" y="149.97" font-size="7.2" text-anchor="end" fill="#2e2e2e" stroke="#2e2e2e" stroke-width="0.2" textLength="7.00" lengthAdjust="spacingAndGlyphs">80</text>
<line x1="151.40" y1="211.50" x2="151.40" y2="214.10" stroke="#1a1a1a" stroke-width="0.9"/>
<text x="151.20" y="223.50" font-size="6.4" text-anchor="middle" fill="#2e2e2e" stroke="#2e2e2e" stroke-width="0.2">0</text>
<line x1="157.85" y1="211.50" x2="157.85" y2="214.10" stroke="#1a1a1a" stroke-width="0.9"/>
<text x="157.65" y="223.50" font-size="6.4" text-anchor="middle" fill="#2e2e2e" stroke="#2e2e2e" stroke-width="0.2">1</text>
<line x1="164.30" y1="211.50" x2="164.30" y2="214.10" stroke="#1a1a1a" stroke-width="0.9"/>
<text x="164.10" y="223.50" font-size="6.4" text-anchor="middle" fill="#2e2e2e" stroke="#2e2e2e" stroke-width="0.2">2</text>
<line x1="170.75" y1="211.50" x2="170.75" y2="214.10" stroke="#1a1a1a" stroke-width="0.9"/>
<text x="170.55" y="223.50" font-size="6.4" text-anchor="middle" fill="#2e2e2e" stroke="#2e2e2e" stroke-width="0.2">3</text>
<line x1="177.20" y1="211.50" x2="177.20" y2="214.10" stroke="#1a1a1a" stroke-width="0.9"/>
<text x="177.00" y="223.50" font-size="6.4" text-anchor="middle" fill="#2e2e2e" stroke="#2e2e2e" stroke-width="0.2">4</text>
<line x1="183.65" y1="211.50" x2="183.65" y2="214.10" stroke="#1a1a1a" stroke-width="0.9"/>
<text x="183.45" y="223.50" font-size="6.4" text-anchor="middle" fill="#2e2e2e" stroke="#2e2e2e" stroke-width="0.2">5</text>
<line x1="190.10" y1="211.50" x2="190.10" y2="214.10" stroke="#1a1a1a" stroke-width="0.9"/>
<text x="189.90" y="223.50" font-size="6.4" text-anchor="middle" fill="#2e2e2e" stroke="#2e2e2e" stroke-width="0.2">6</text>
<line x1="196.55" y1="211.50" x2="196.55" y2="214.10" stroke="#1a1a1a" stroke-width="0.9"/>
<text x="196.35" y="223.50" font-size="6.4" text-anchor="middle" fill="#2e2e2e" stroke="#2e2e2e" stroke-width="0.2">7</text>
<line x1="203.00" y1="211.50" x2="203.00" y2="214.10" stroke="#1a1a1a" stroke-width="0.9"/>
<text x="202.80" y="223.50" font-size="6.4" text-anchor="middle" fill="#2e2e2e" stroke="#2e2e2e" stroke-width="0.2">8</text>
<line x1="209.45" y1="211.50" x2="209.45" y2="214.10" stroke="#1a1a1a" stroke-width="0.9"/>
<text x="209.25" y="223.50" font-size="6.4" text-anchor="middle" fill="#2e2e2e" stroke="#2e2e2e" stroke-width="0.2">9</text>
<line x1="215.90" y1="211.50" x2="215.90" y2="214.10" stroke="#1a1a1a" stroke-width="0.9"/>
<text x="215.70" y="223.50" font-size="6.4" text-anchor="middle" fill="#2e2e2e" stroke="#2e2e2e" stroke-width="0.2" textLength="5.60" lengthAdjust="spacingAndGlyphs">10</text>
<text x="148.10" y="235.30" font-size="8.6" fill="#2e2e2e" stroke="#2e2e2e" stroke-width="0.2" textLength="74.40" lengthAdjust="spacingAndGlyphs">Post transplant (months)</text>
<text x="132.90" y="177.30" font-size="8.6" text-anchor="middle" fill="#2e2e2e" stroke="#2e2e2e" stroke-width="0.2" textLength="72.00" lengthAdjust="spacingAndGlyphs" transform="rotate(-90 132.90 177.30)">Chimerism (CD45.2, %)</text>
<line x1="164.70" y1="245.00" x2="171.90" y2="245.00" stroke="#8c1538" stroke-width="0.8"/>
<circle cx="168.30" cy="245.00" r="1.5" fill="#8c1538"/>
<text x="174.80" y="247.38" font-size="6.6" fill="#2e2e2e" stroke="#2e2e2e" stroke-width="0.2" textLength="21.80" lengthAdjust="spacingAndGlyphs">Control</text>
<line x1="164.70" y1="254.00" x2="171.90" y2="254.00" stroke="#8cc4dc" stroke-width="0.8"/>
<circle cx="168.30" cy="254.00" r="1.5" fill="#3d82a4"/>
<text x="174.80" y="256.38" font-size="6.6" fill="#2e2e2e" stroke="#2e2e2e" stroke-width="0.2" textLength="23.70" lengthAdjust="spacingAndGlyphs"><tspan font-style="italic">Trsp</tspan> KO</text>
<rect x="287.10" y="146.78" width="26.40" height="64.32" fill="#f6d3cf"/>
<text x="272.00" y="137.45" font-size="9.3" fill="#2e2e2e" stroke="#2e2e2e" stroke-width="0.3" textLength="19.60" lengthAdjust="spacingAndGlyphs">CD3<tspan baseline-shift="3.4" font-size="5.6">+</tspan></text>
<line x1="254.85" y1="205.23" x2="254.85" y2="208.45" stroke="#86c9e6" stroke-width="0.9"/>
<line x1="253.65" y1="205.23" x2="256.05" y2="205.23" stroke="#86c9e6" stroke-width="0.7"/>
<line x1="253.65" y1="208.45" x2="256.05" y2="208.45" stroke="#86c9e6" stroke-width="0.7"/>
<line x1="261.30" y1="202.34" x2="261.30" y2="207.16" stroke="#86c9e6" stroke-width="0.9"/>
<line x1="260.10" y1="202.34" x2="262.50" y2="202.34" stroke="#86c9e6" stroke-width="0.7"/>
<line x1="260.10" y1="207.16" x2="262.50" y2="207.16" stroke="#86c9e6" stroke-width="0.7"/>
<line x1="267.75" y1="206.28" x2="267.75" y2="208.21" stroke="#86c9e6" stroke-width="0.9"/>
<line x1="266.55" y1="206.28" x2="268.95" y2="206.28" stroke="#86c9e6" stroke-width="0.7"/>
<line x1="266.55" y1="208.21" x2="268.95" y2="208.21" stroke="#86c9e6" stroke-width="0.7"/>
<line x1="274.20" y1="207.40" x2="274.20" y2="209.01" stroke="#86c9e6" stroke-width="0.9"/>
<line x1="273.00" y1="207.40" x2="275.40" y2="207.40" stroke="#86c9e6" stroke-width="0.7"/>
<line x1="273.00" y1="209.01" x2="275.40" y2="209.01" stroke="#86c9e6" stroke-width="0.7"/>
<line x1="280.65" y1="208.85" x2="280.65" y2="210.14" stroke="#86c9e6" stroke-width="0.9"/>
<line x1="279.45" y1="208.85" x2="281.85" y2="208.85" stroke="#86c9e6" stroke-width="0.7"/>
<line x1="279.45" y1="210.14" x2="281.85" y2="210.14" stroke="#86c9e6" stroke-width="0.7"/>
<line x1="287.10" y1="209.49" x2="287.10" y2="210.30" stroke="#86c9e6" stroke-width="0.9"/>
<line x1="285.90" y1="209.49" x2="288.30" y2="209.49" stroke="#86c9e6" stroke-width="0.7"/>
<line x1="285.90" y1="210.30" x2="288.30" y2="210.30" stroke="#86c9e6" stroke-width="0.7"/>
<polyline points="254.85,206.84 261.30,204.75 267.75,207.24 274.20,208.21 280.65,209.49 287.10,209.89 293.55,210.70 300.00,210.70 306.45,210.70 312.90,210.70" fill="none" stroke="#8cc4dc" stroke-width="1.2"/>
<circle cx="254.85" cy="206.84" r="1.7" fill="#3d82a4"/>
<circle cx="261.30" cy="204.75" r="1.7" fill="#3d82a4"/>
<circle cx="267.75" cy="207.24" r="1.7" fill="#3d82a4"/>
<circle cx="274.20" cy="208.21" r="1.7" fill="#3d82a4"/>
<circle cx="280.65" cy="209.49" r="1.7" fill="#3d82a4"/>
<circle cx="287.10" cy="209.89" r="1.7" fill="#3d82a4"/>
<circle cx="293.55" cy="210.70" r="1.7" fill="#3d82a4"/>
<circle cx="300.00" cy="210.70" r="1.7" fill="#3d82a4"/>
<circle cx="306.45" cy="210.70" r="1.7" fill="#3d82a4"/>
<circle cx="312.90" cy="210.70" r="1.7" fill="#3d82a4"/>
<line x1="254.85" y1="191.80" x2="254.85" y2="211.10" stroke="#d06a84" stroke-width="0.85"/>
<line x1="253.65" y1="191.80" x2="256.05" y2="191.80" stroke="#d06a84" stroke-width="0.7"/>
<line x1="261.30" y1="191.96" x2="261.30" y2="204.02" stroke="#d06a84" stroke-width="0.85"/>
<line x1="260.10" y1="191.96" x2="262.50" y2="191.96" stroke="#d06a84" stroke-width="0.7"/>
<line x1="260.10" y1="204.02" x2="262.50" y2="204.02" stroke="#d06a84" stroke-width="0.7"/>
<line x1="267.75" y1="184.17" x2="267.75" y2="203.46" stroke="#d06a84" stroke-width="0.85"/>
<line x1="266.55" y1="184.17" x2="268.95" y2="184.17" stroke="#d06a84" stroke-width="0.7"/>
<line x1="266.55" y1="203.46" x2="268.95" y2="203.46" stroke="#d06a84" stroke-width="0.7"/>
<line x1="274.20" y1="177.89" x2="274.20" y2="202.82" stroke="#d06a84" stroke-width="0.85"/>
<line x1="273.00" y1="177.89" x2="275.40" y2="177.89" stroke="#d06a84" stroke-width="0.7"/>
<line x1="273.00" y1="202.82" x2="275.40" y2="202.82" stroke="#d06a84" stroke-width="0.7"/>
<line x1="280.65" y1="175.64" x2="280.65" y2="202.18" stroke="#d06a84" stroke-width="0.85"/>
<line x1="279.45" y1="175.64" x2="281.85" y2="175.64" stroke="#d06a84" stroke-width="0.7"/>
<line x1="279.45" y1="202.18" x2="281.85" y2="202.18" stroke="#d06a84" stroke-width="0.7"/>
<line x1="287.10" y1="173.07" x2="287.10" y2="202.01" stroke="#d06a84" stroke-width="0.85"/>
<line x1="285.90" y1="173.07" x2="288.30" y2="173.07" stroke="#d06a84" stroke-width="0.7"/>
<line x1="285.90" y1="202.01" x2="288.30" y2="202.01" stroke="#d06a84" stroke-width="0.7"/>
<line x1="300.00" y1="185.21" x2="300.00" y2="209.33" stroke="#d06a84" stroke-width="0.85"/>
<line x1="298.80" y1="185.21" x2="301.20" y2="185.21" stroke="#d06a84" stroke-width="0.7"/>
<line x1="298.80" y1="209.33" x2="301.20" y2="209.33" stroke="#d06a84" stroke-width="0.7"/>
<line x1="306.45" y1="181.51" x2="306.45" y2="211.10" stroke="#d06a84" stroke-width="0.85"/>
<line x1="305.25" y1="181.51" x2="307.65" y2="181.51" stroke="#d06a84" stroke-width="0.7"/>
<line x1="312.90" y1="181.11" x2="312.90" y2="211.10" stroke="#d06a84" stroke-width="0.85"/>
<line x1="311.70" y1="181.11" x2="314.10" y2="181.11" stroke="#d06a84" stroke-width="0.7"/>
<polyline points="254.85,202.66 261.30,197.99 267.75,193.81 274.20,190.36 280.65,188.91 287.10,187.54 293.55,209.49 300.00,197.27 306.45,196.79 312.90,196.95" fill="none" stroke="#8c1538" stroke-width="0.9"/>
<circle cx="254.85" cy="202.66" r="1.7" fill="#8c1538"/>
<circle cx="261.30" cy="197.99" r="1.7" fill="#8c1538"/>
<circle cx="267.75" cy="193.81" r="1.7" fill="#8c1538"/>
<circle cx="274.20" cy="190.36" r="1.7" fill="#8c1538"/>
<circle cx="280.65" cy="188.91" r="1.7" fill="#8c1538"/>
<circle cx="287.10" cy="187.54" r="1.7" fill="#8c1538"/>
<circle cx="293.55" cy="209.49" r="1.7" fill="#8c1538"/>
<circle cx="300.00" cy="197.27" r="1.7" fill="#8c1538"/>
<circle cx="306.45" cy="196.79" r="1.7" fill="#8c1538"/>
<circle cx="312.90" cy="196.95" r="1.7" fill="#8c1538"/>
<circle cx="261.20" cy="185.20" r="0.95" fill="#333"/>
<circle cx="266.05" cy="180.40" r="0.95" fill="#333"/>
<circle cx="268.95" cy="180.40" r="0.95" fill="#333"/>
<circle cx="271.30" cy="168.80" r="0.95" fill="#333"/>
<circle cx="274.20" cy="168.80" r="0.95" fill="#333"/>
<circle cx="277.10" cy="168.80" r="0.95" fill="#333"/>
<circle cx="277.70" cy="164.00" r="0.95" fill="#333"/>
<circle cx="280.60" cy="164.00" r="0.95" fill="#333"/>
<circle cx="283.50" cy="164.00" r="0.95" fill="#333"/>
<circle cx="284.60" cy="156.30" r="0.95" fill="#333"/>
<circle cx="287.50" cy="156.30" r="0.95" fill="#333"/>
<circle cx="290.40" cy="156.30" r="0.95" fill="#333"/>
<circle cx="289.45" cy="190.40" r="0.95" fill="#333"/>
<circle cx="292.35" cy="190.40" r="0.95" fill="#333"/>
<circle cx="295.25" cy="190.40" r="0.95" fill="#333"/>
<circle cx="298.15" cy="190.40" r="0.95" fill="#333"/>
<circle cx="298.55" cy="178.50" r="0.95" fill="#333"/>
<circle cx="301.45" cy="178.50" r="0.95" fill="#333"/>
<circle cx="306.30" cy="178.50" r="0.95" fill="#333"/>
<circle cx="312.70" cy="178.50" r="0.95" fill="#333"/>
<line x1="248.40" y1="143.78" x2="248.40" y2="211.60" stroke="#1a1a1a" stroke-width="1.1"/>
<line x1="246.00" y1="211.30" x2="315.10" y2="211.30" stroke="#1a1a1a" stroke-width="1.3"/>
<line x1="245.20" y1="211.10" x2="248.40" y2="211.10" stroke="#1a1a1a" stroke-width="0.9"/>
<text x="242.30" y="213.89" font-size="7.2" text-anchor="end" fill="#2e2e2e" stroke="#2e2e2e" stroke-width="0.2">0</text>
<line x1="245.20" y1="195.02" x2="248.40" y2="195.02" stroke="#1a1a1a" stroke-width="0.9"/>
<text x="242.30" y="197.81" font-size="7.2" text-anchor="end" fill="#2e2e2e" stroke="#2e2e2e" stroke-width="0.2" textLength="7.00" lengthAdjust="spacingAndGlyphs">20</text>
<line x1="245.20" y1="178.94" x2="248.40" y2="178.94" stroke="#1a1a1a" stroke-width="0.9"/>
<text x="242.30" y="181.73" font-size="7.2" text-anchor="end" fill="#2e2e2e" stroke="#2e2e2e" stroke-width="0.2" textLength="7.00" lengthAdjust="spacingAndGlyphs">40</text>
<line x1="245.20" y1="162.86" x2="248.40" y2="162.86" stroke="#1a1a1a" stroke-width="0.9"/>
<text x="242.30" y="165.65" font-size="7.2" text-anchor="end" fill="#2e2e2e" stroke="#2e2e2e" stroke-width="0.2" textLength="7.00" lengthAdjust="spacingAndGlyphs">60</text>
<line x1="245.20" y1="146.78" x2="248.40" y2="146.78" stroke="#1a1a1a" stroke-width="0.9"/>
<text x="242.30" y="149.57" font-size="7.2" text-anchor="end" fill="#2e2e2e" stroke="#2e2e2e" stroke-width="0.2" textLength="7.00" lengthAdjust="spacingAndGlyphs">80</text>
<line x1="248.40" y1="211.10" x2="248.40" y2="213.70" stroke="#1a1a1a" stroke-width="0.9"/>
<text x="248.20" y="223.50" font-size="6.4" text-anchor="middle" fill="#2e2e2e" stroke="#2e2e2e" stroke-width="0.2">0</text>
<line x1="254.85" y1="211.10" x2="254.85" y2="213.70" stroke="#1a1a1a" stroke-width="0.9"/>
<text x="254.65" y="223.50" font-size="6.4" text-anchor="middle" fill="#2e2e2e" stroke="#2e2e2e" stroke-width="0.2">1</text>
<line x1="261.30" y1="211.10" x2="261.30" y2="213.70" stroke="#1a1a1a" stroke-width="0.9"/>
<text x="261.10" y="223.50" font-size="6.4" text-anchor="middle" fill="#2e2e2e" stroke="#2e2e2e" stroke-width="0.2">2</text>
<line x1="267.75" y1="211.10" x2="267.75" y2="213.70" stroke="#1a1a1a" stroke-width="0.9"/>
<text x="267.55" y="223.50" font-size="6.4" text-anchor="middle" fill="#2e2e2e" stroke="#2e2e2e" stroke-width="0.2">3</text>
<line x1="274.20" y1="211.10" x2="274.20" y2="213.70" stroke="#1a1a1a" stroke-width="0.9"/>
<text x="274.00" y="223.50" font-size="6.4" text-anchor="middle" fill="#2e2e2e" stroke="#2e2e2e" stroke-width="0.2">4</text>
<line x1="280.65" y1="211.10" x2="280.65" y2="213.70" stroke="#1a1a1a" stroke-width="0.9"/>
<text x="280.45" y="223.50" font-size="6.4" text-anchor="middle" fill="#2e2e2e" stroke="#2e2e2e" stroke-width="0.2">5</text>
<line x1="287.10" y1="211.10" x2="287.10" y2="213.70" stroke="#1a1a1a" stroke-width="0.9"/>
<text x="286.90" y="223.50" font-size="6.4" text-anchor="middle" fill="#2e2e2e" stroke="#2e2e2e" stroke-width="0.2">6</text>
<line x1="293.55" y1="211.10" x2="293.55" y2="213.70" stroke="#1a1a1a" stroke-width="0.9"/>
<text x="293.35" y="223.50" font-size="6.4" text-anchor="middle" fill="#2e2e2e" stroke="#2e2e2e" stroke-width="0.2">7</text>
<line x1="300.00" y1="211.10" x2="300.00" y2="213.70" stroke="#1a1a1a" stroke-width="0.9"/>
<text x="299.80" y="223.50" font-size="6.4" text-anchor="middle" fill="#2e2e2e" stroke="#2e2e2e" stroke-width="0.2">8</text>
<line x1="306.45" y1="211.10" x2="306.45" y2="213.70" stroke="#1a1a1a" stroke-width="0.9"/>
<text x="306.25" y="223.50" font-size="6.4" text-anchor="middle" fill="#2e2e2e" stroke="#2e2e2e" stroke-width="0.2">9</text>
<line x1="312.90" y1="211.10" x2="312.90" y2="213.70" stroke="#1a1a1a" stroke-width="0.9"/>
<text x="312.70" y="223.50" font-size="6.4" text-anchor="middle" fill="#2e2e2e" stroke="#2e2e2e" stroke-width="0.2" textLength="5.60" lengthAdjust="spacingAndGlyphs">10</text>
<text x="245.10" y="235.30" font-size="8.6" fill="#2e2e2e" stroke="#2e2e2e" stroke-width="0.2" textLength="74.40" lengthAdjust="spacingAndGlyphs">Post transplant (months)</text>
<rect x="384.00" y="146.78" width="26.40" height="64.32" fill="#f6d3cf"/>
<text x="352.40" y="137.45" font-size="9.3" fill="#2e2e2e" stroke="#2e2e2e" stroke-width="0.3" textLength="54.90" lengthAdjust="spacingAndGlyphs">CD11b<tspan baseline-shift="3.4" font-size="5.6">+</tspan>Gr-1<tspan baseline-shift="3.4" font-size="5.6">+</tspan></text>
<line x1="351.75" y1="160.45" x2="351.75" y2="173.96" stroke="#86c9e6" stroke-width="0.9"/>
<line x1="350.55" y1="160.45" x2="352.95" y2="160.45" stroke="#86c9e6" stroke-width="0.7"/>
<line x1="350.55" y1="173.96" x2="352.95" y2="173.96" stroke="#86c9e6" stroke-width="0.7"/>
<line x1="358.20" y1="171.70" x2="358.20" y2="199.04" stroke="#86c9e6" stroke-width="0.9"/>
<line x1="357.00" y1="171.70" x2="359.40" y2="171.70" stroke="#86c9e6" stroke-width="0.7"/>
<line x1="357.00" y1="199.04" x2="359.40" y2="199.04" stroke="#86c9e6" stroke-width="0.7"/>
<line x1="364.65" y1="174.12" x2="364.65" y2="203.06" stroke="#86c9e6" stroke-width="0.9"/>
<line x1="363.45" y1="174.12" x2="365.85" y2="174.12" stroke="#86c9e6" stroke-width="0.7"/>
<line x1="363.45" y1="203.06" x2="365.85" y2="203.06" stroke="#86c9e6" stroke-width="0.7"/>
<line x1="371.10" y1="175.48" x2="371.10" y2="202.82" stroke="#86c9e6" stroke-width="0.9"/>
<line x1="369.90" y1="175.48" x2="372.30" y2="175.48" stroke="#86c9e6" stroke-width="0.7"/>
<line x1="369.90" y1="202.82" x2="372.30" y2="202.82" stroke="#86c9e6" stroke-width="0.7"/>
<line x1="377.55" y1="174.92" x2="377.55" y2="202.26" stroke="#86c9e6" stroke-width="0.9"/>
<line x1="376.35" y1="174.92" x2="378.75" y2="174.92" stroke="#86c9e6" stroke-width="0.7"/>
<line x1="376.35" y1="202.26" x2="378.75" y2="202.26" stroke="#86c9e6" stroke-width="0.7"/>
<line x1="384.00" y1="176.53" x2="384.00" y2="200.65" stroke="#86c9e6" stroke-width="0.9"/>
<line x1="382.80" y1="176.53" x2="385.20" y2="176.53" stroke="#86c9e6" stroke-width="0.7"/>
<line x1="382.80" y1="200.65" x2="385.20" y2="200.65" stroke="#86c9e6" stroke-width="0.7"/>
<line x1="390.45" y1="205.47" x2="390.45" y2="208.69" stroke="#86c9e6" stroke-width="0.9"/>
<line x1="389.25" y1="205.47" x2="391.65" y2="205.47" stroke="#86c9e6" stroke-width="0.7"/>
<line x1="389.25" y1="208.69" x2="391.65" y2="208.69" stroke="#86c9e6" stroke-width="0.7"/>
<line x1="396.90" y1="204.91" x2="396.90" y2="208.13" stroke="#86c9e6" stroke-width="0.9"/>
<line x1="395.70" y1="204.91" x2="398.10" y2="204.91" stroke="#86c9e6" stroke-width="0.7"/>
<line x1="395.70" y1="208.13" x2="398.10" y2="208.13" stroke="#86c9e6" stroke-width="0.7"/>
<line x1="403.35" y1="203.06" x2="403.35" y2="207.88" stroke="#86c9e6" stroke-width="0.9"/>
<line x1="402.15" y1="203.06" x2="404.55" y2="203.06" stroke="#86c9e6" stroke-width="0.7"/>
<line x1="402.15" y1="207.88" x2="404.55" y2="207.88" stroke="#86c9e6" stroke-width="0.7"/>
<line x1="409.80" y1="204.91" x2="409.80" y2="208.13" stroke="#86c9e6" stroke-width="0.9"/>
<line x1="408.60" y1="204.91" x2="411.00" y2="204.91" stroke="#86c9e6" stroke-width="0.7"/>
<line x1="408.60" y1="208.13" x2="411.00" y2="208.13" stroke="#86c9e6" stroke-width="0.7"/>
<polyline points="351.75,167.20 358.20,185.37 364.65,188.59 371.10,189.15 377.55,188.59 384.00,188.59 390.45,207.08 396.90,206.52 403.35,205.47 409.80,206.52" fill="none" stroke="#8cc4dc" stroke-width="1.2"/>
<circle cx="351.75" cy="167.20" r="1.7" fill="#3d82a4"/>
<circle cx="358.20" cy="185.37" r="1.7" fill="#3d82a4"/>
<circle cx="364.65" cy="188.59" r="1.7" fill="#3d82a4"/>
<circle cx="371.10" cy="189.15" r="1.7" fill="#3d82a4"/>
<circle cx="377.55" cy="188.59" r="1.7" fill="#3d82a4"/>
<circle cx="384.00" cy="188.59" r="1.7" fill="#3d82a4"/>
<circle cx="390.45" cy="207.08" r="1.7" fill="#3d82a4"/>
<circle cx="396.90" cy="206.52" r="1.7" fill="#3d82a4"/>
<circle cx="403.35" cy="205.47" r="1.7" fill="#3d82a4"/>
<circle cx="409.80" cy="206.52" r="1.7" fill="#3d82a4"/>
<line x1="351.75" y1="167.28" x2="351.75" y2="181.75" stroke="#d06a84" stroke-width="0.85"/>
<line x1="350.55" y1="167.28" x2="352.95" y2="167.28" stroke="#d06a84" stroke-width="0.7"/>
<line x1="350.55" y1="181.75" x2="352.95" y2="181.75" stroke="#d06a84" stroke-width="0.7"/>
<line x1="358.20" y1="162.46" x2="358.20" y2="198.96" stroke="#d06a84" stroke-width="0.85"/>
<line x1="357.00" y1="162.46" x2="359.40" y2="162.46" stroke="#d06a84" stroke-width="0.7"/>
<line x1="357.00" y1="198.96" x2="359.40" y2="198.96" stroke="#d06a84" stroke-width="0.7"/>
<line x1="364.65" y1="165.27" x2="364.65" y2="199.04" stroke="#d06a84" stroke-width="0.85"/>
<line x1="363.45" y1="165.27" x2="365.85" y2="165.27" stroke="#d06a84" stroke-width="0.7"/>
<line x1="363.45" y1="199.04" x2="365.85" y2="199.04" stroke="#d06a84" stroke-width="0.7"/>
<line x1="371.10" y1="164.87" x2="371.10" y2="197.67" stroke="#d06a84" stroke-width="0.85"/>
<line x1="369.90" y1="164.87" x2="372.30" y2="164.87" stroke="#d06a84" stroke-width="0.7"/>
<line x1="369.90" y1="197.67" x2="372.30" y2="197.67" stroke="#d06a84" stroke-width="0.7"/>
<line x1="377.55" y1="162.46" x2="377.55" y2="198.96" stroke="#d06a84" stroke-width="0.85"/>
<line x1="376.35" y1="162.46" x2="378.75" y2="162.46" stroke="#d06a84" stroke-width="0.7"/>
<line x1="376.35" y1="198.96" x2="378.75" y2="198.96" stroke="#d06a84" stroke-width="0.7"/>
<line x1="384.00" y1="160.45" x2="384.00" y2="199.84" stroke="#d06a84" stroke-width="0.85"/>
<line x1="382.80" y1="160.45" x2="385.20" y2="160.45" stroke="#d06a84" stroke-width="0.7"/>
<line x1="382.80" y1="199.84" x2="385.20" y2="199.84" stroke="#d06a84" stroke-width="0.7"/>
<line x1="390.45" y1="185.37" x2="390.45" y2="193.41" stroke="#d06a84" stroke-width="0.85"/>
<line x1="389.25" y1="185.37" x2="391.65" y2="185.37" stroke="#d06a84" stroke-width="0.7"/>
<line x1="389.25" y1="193.41" x2="391.65" y2="193.41" stroke="#d06a84" stroke-width="0.7"/>
<line x1="396.90" y1="185.37" x2="396.90" y2="194.54" stroke="#d06a84" stroke-width="0.85"/>
<line x1="395.70" y1="185.37" x2="398.10" y2="185.37" stroke="#d06a84" stroke-width="0.7"/>
<line x1="395.70" y1="194.54" x2="398.10" y2="194.54" stroke="#d06a84" stroke-width="0.7"/>
<line x1="403.35" y1="184.57" x2="403.35" y2="196.95" stroke="#d06a84" stroke-width="0.85"/>
<line x1="402.15" y1="184.57" x2="404.55" y2="184.57" stroke="#d06a84" stroke-width="0.7"/>
<line x1="402.15" y1="196.95" x2="404.55" y2="196.95" stroke="#d06a84" stroke-width="0.7"/>
<line x1="409.80" y1="181.35" x2="409.80" y2="202.26" stroke="#d06a84" stroke-width="0.85"/>
<line x1="408.60" y1="181.35" x2="411.00" y2="181.35" stroke="#d06a84" stroke-width="0.7"/>
<line x1="408.60" y1="202.26" x2="411.00" y2="202.26" stroke="#d06a84" stroke-width="0.7"/>
<polyline points="351.75,174.52 358.20,180.71 364.65,182.16 371.10,181.27 377.55,180.71 384.00,180.15 390.45,189.39 396.90,189.95 403.35,190.76 409.80,191.80" fill="none" stroke="#8c1538" stroke-width="0.9"/>
<circle cx="351.75" cy="174.52" r="1.7" fill="#8c1538"/>
<circle cx="358.20" cy="180.71" r="1.7" fill="#8c1538"/>
<circle cx="364.65" cy="182.16" r="1.7" fill="#8c1538"/>
<circle cx="371.10" cy="181.27" r="1.7" fill="#8c1538"/>
<circle cx="377.55" cy="180.71" r="1.7" fill="#8c1538"/>
<circle cx="384.00" cy="180.15" r="1.7" fill="#8c1538"/>
<circle cx="390.45" cy="189.39" r="1.7" fill="#8c1538"/>
<circle cx="396.90" cy="189.95" r="1.7" fill="#8c1538"/>
<circle cx="403.35" cy="190.76" r="1.7" fill="#8c1538"/>
<circle cx="409.80" cy="191.80" r="1.7" fill="#8c1538"/>
<circle cx="386.25" cy="178.10" r="0.95" fill="#333"/>
<circle cx="389.15" cy="178.10" r="0.95" fill="#333"/>
<circle cx="392.05" cy="178.10" r="0.95" fill="#333"/>
<circle cx="394.95" cy="178.10" r="0.95" fill="#333"/>
<circle cx="393.80" cy="181.30" r="0.95" fill="#333"/>
<circle cx="396.70" cy="181.30" r="0.95" fill="#333"/>
<circle cx="399.60" cy="181.30" r="0.95" fill="#333"/>
<circle cx="401.75" cy="178.10" r="0.95" fill="#333"/>
<circle cx="404.65" cy="178.10" r="0.95" fill="#333"/>
<circle cx="408.35" cy="178.10" r="0.95" fill="#333"/>
<circle cx="411.25" cy="178.10" r="0.95" fill="#333"/>
<line x1="345.30" y1="143.78" x2="345.30" y2="211.60" stroke="#1a1a1a" stroke-width="1.1"/>
<line x1="342.90" y1="211.30" x2="412.00" y2="211.30" stroke="#1a1a1a" stroke-width="1.3"/>
<line x1="342.10" y1="211.10" x2="345.30" y2="211.10" stroke="#1a1a1a" stroke-width="0.9"/>
<text x="339.20" y="213.89" font-size="7.2" text-anchor="end" fill="#2e2e2e" stroke="#2e2e2e" stroke-width="0.2">0</text>
<line x1="342.10" y1="195.02" x2="345.30" y2="195.02" stroke="#1a1a1a" stroke-width="0.9"/>
<text x="339.20" y="197.81" font-size="7.2" text-anchor="end" fill="#2e2e2e" stroke="#2e2e2e" stroke-width="0.2" textLength="7.00" lengthAdjust="spacingAndGlyphs">20</text>
<line x1="342.10" y1="178.94" x2="345.30" y2="178.94" stroke="#1a1a1a" stroke-width="0.9"/>
<text x="339.20" y="181.73" font-size="7.2" text-anchor="end" fill="#2e2e2e" stroke="#2e2e2e" stroke-width="0.2" textLength="7.00" lengthAdjust="spacingAndGlyphs">40</text>
<line x1="342.10" y1="162.86" x2="345.30" y2="162.86" stroke="#1a1a1a" stroke-width="0.9"/>
<text x="339.20" y="165.65" font-size="7.2" text-anchor="end" fill="#2e2e2e" stroke="#2e2e2e" stroke-width="0.2" textLength="7.00" lengthAdjust="spacingAndGlyphs">60</text>
<line x1="342.10" y1="146.78" x2="345.30" y2="146.78" stroke="#1a1a1a" stroke-width="0.9"/>
<text x="339.20" y="149.57" font-size="7.2" text-anchor="end" fill="#2e2e2e" stroke="#2e2e2e" stroke-width="0.2" textLength="7.00" lengthAdjust="spacingAndGlyphs">80</text>
<line x1="345.30" y1="211.10" x2="345.30" y2="213.70" stroke="#1a1a1a" stroke-width="0.9"/>
<text x="345.10" y="223.50" font-size="6.4" text-anchor="middle" fill="#2e2e2e" stroke="#2e2e2e" stroke-width="0.2">0</text>
<line x1="351.75" y1="211.10" x2="351.75" y2="213.70" stroke="#1a1a1a" stroke-width="0.9"/>
<text x="351.55" y="223.50" font-size="6.4" text-anchor="middle" fill="#2e2e2e" stroke="#2e2e2e" stroke-width="0.2">1</text>
<line x1="358.20" y1="211.10" x2="358.20" y2="213.70" stroke="#1a1a1a" stroke-width="0.9"/>
<text x="358.00" y="223.50" font-size="6.4" text-anchor="middle" fill="#2e2e2e" stroke="#2e2e2e" stroke-width="0.2">2</text>
<line x1="364.65" y1="211.10" x2="364.65" y2="213.70" stroke="#1a1a1a" stroke-width="0.9"/>
<text x="364.45" y="223.50" font-size="6.4" text-anchor="middle" fill="#2e2e2e" stroke="#2e2e2e" stroke-width="0.2">3</text>
<line x1="371.10" y1="211.10" x2="371.10" y2="213.70" stroke="#1a1a1a" stroke-width="0.9"/>
<text x="370.90" y="223.50" font-size="6.4" text-anchor="middle" fill="#2e2e2e" stroke="#2e2e2e" stroke-width="0.2">4</text>
<line x1="377.55" y1="211.10" x2="377.55" y2="213.70" stroke="#1a1a1a" stroke-width="0.9"/>
<text x="377.35" y="223.50" font-size="6.4" text-anchor="middle" fill="#2e2e2e" stroke="#2e2e2e" stroke-width="0.2">5</text>
<line x1="384.00" y1="211.10" x2="384.00" y2="213.70" stroke="#1a1a1a" stroke-width="0.9"/>
<text x="383.80" y="223.50" font-size="6.4" text-anchor="middle" fill="#2e2e2e" stroke="#2e2e2e" stroke-width="0.2">6</text>
<line x1="390.45" y1="211.10" x2="390.45" y2="213.70" stroke="#1a1a1a" stroke-width="0.9"/>
<text x="390.25" y="223.50" font-size="6.4" text-anchor="middle" fill="#2e2e2e" stroke="#2e2e2e" stroke-width="0.2">7</text>
<line x1="396.90" y1="211.10" x2="396.90" y2="213.70" stroke="#1a1a1a" stroke-width="0.9"/>
<text x="396.70" y="223.50" font-size="6.4" text-anchor="middle" fill="#2e2e2e" stroke="#2e2e2e" stroke-width="0.2">8</text>
<line x1="403.35" y1="211.10" x2="403.35" y2="213.70" stroke="#1a1a1a" stroke-width="0.9"/>
<text x="403.15" y="223.50" font-size="6.4" text-anchor="middle" fill="#2e2e2e" stroke="#2e2e2e" stroke-width="0.2">9</text>
<line x1="409.80" y1="211.10" x2="409.80" y2="213.70" stroke="#1a1a1a" stroke-width="0.9"/>
<text x="409.60" y="223.50" font-size="6.4" text-anchor="middle" fill="#2e2e2e" stroke="#2e2e2e" stroke-width="0.2" textLength="5.60" lengthAdjust="spacingAndGlyphs">10</text>
<text x="342.00" y="235.30" font-size="8.6" fill="#2e2e2e" stroke="#2e2e2e" stroke-width="0.2" textLength="74.40" lengthAdjust="spacingAndGlyphs">Post transplant (months)</text>
<rect x="480.80" y="147.08" width="26.40" height="64.32" fill="#f6d3cf"/>
<text x="447.70" y="137.45" font-size="9.3" fill="#2e2e2e" stroke="#2e2e2e" stroke-width="0.3" textLength="53.90" lengthAdjust="spacingAndGlyphs">CD11b<tspan baseline-shift="3.4" font-size="5.6">+</tspan>Gr-1<tspan baseline-shift="3.4" font-size="5.6">−</tspan></text>
<line x1="448.55" y1="173.05" x2="448.55" y2="181.09" stroke="#86c9e6" stroke-width="0.9"/>
<line x1="447.35" y1="173.05" x2="449.75" y2="173.05" stroke="#86c9e6" stroke-width="0.7"/>
<line x1="447.35" y1="181.09" x2="449.75" y2="181.09" stroke="#86c9e6" stroke-width="0.7"/>
<line x1="455.00" y1="183.10" x2="455.00" y2="200.79" stroke="#86c9e6" stroke-width="0.9"/>
<line x1="453.80" y1="183.10" x2="456.20" y2="183.10" stroke="#86c9e6" stroke-width="0.7"/>
<line x1="453.80" y1="200.79" x2="456.20" y2="200.79" stroke="#86c9e6" stroke-width="0.7"/>
<line x1="461.45" y1="182.13" x2="461.45" y2="206.25" stroke="#86c9e6" stroke-width="0.9"/>
<line x1="460.25" y1="182.13" x2="462.65" y2="182.13" stroke="#86c9e6" stroke-width="0.7"/>
<line x1="460.25" y1="206.25" x2="462.65" y2="206.25" stroke="#86c9e6" stroke-width="0.7"/>
<line x1="467.90" y1="185.03" x2="467.90" y2="204.32" stroke="#86c9e6" stroke-width="0.9"/>
<line x1="466.70" y1="185.03" x2="469.10" y2="185.03" stroke="#86c9e6" stroke-width="0.7"/>
<line x1="466.70" y1="204.32" x2="469.10" y2="204.32" stroke="#86c9e6" stroke-width="0.7"/>
<line x1="474.35" y1="193.07" x2="474.35" y2="209.15" stroke="#86c9e6" stroke-width="0.9"/>
<line x1="473.15" y1="193.07" x2="475.55" y2="193.07" stroke="#86c9e6" stroke-width="0.7"/>
<line x1="473.15" y1="209.15" x2="475.55" y2="209.15" stroke="#86c9e6" stroke-width="0.7"/>
<line x1="480.80" y1="191.70" x2="480.80" y2="209.39" stroke="#86c9e6" stroke-width="0.9"/>
<line x1="479.60" y1="191.70" x2="482.00" y2="191.70" stroke="#86c9e6" stroke-width="0.7"/>
<line x1="479.60" y1="209.39" x2="482.00" y2="209.39" stroke="#86c9e6" stroke-width="0.7"/>
<line x1="487.25" y1="208.59" x2="487.25" y2="210.19" stroke="#86c9e6" stroke-width="0.9"/>
<line x1="486.05" y1="208.59" x2="488.45" y2="208.59" stroke="#86c9e6" stroke-width="0.7"/>
<line x1="486.05" y1="210.19" x2="488.45" y2="210.19" stroke="#86c9e6" stroke-width="0.7"/>
<line x1="493.70" y1="208.59" x2="493.70" y2="210.19" stroke="#86c9e6" stroke-width="0.9"/>
<line x1="492.50" y1="208.59" x2="494.90" y2="208.59" stroke="#86c9e6" stroke-width="0.7"/>
<line x1="492.50" y1="210.19" x2="494.90" y2="210.19" stroke="#86c9e6" stroke-width="0.7"/>
<line x1="500.15" y1="208.59" x2="500.15" y2="210.19" stroke="#86c9e6" stroke-width="0.9"/>
<line x1="498.95" y1="208.59" x2="501.35" y2="208.59" stroke="#86c9e6" stroke-width="0.7"/>
<line x1="498.95" y1="210.19" x2="501.35" y2="210.19" stroke="#86c9e6" stroke-width="0.7"/>
<line x1="506.60" y1="208.59" x2="506.60" y2="210.19" stroke="#86c9e6" stroke-width="0.9"/>
<line x1="505.40" y1="208.59" x2="507.80" y2="208.59" stroke="#86c9e6" stroke-width="0.7"/>
<line x1="505.40" y1="210.19" x2="507.80" y2="210.19" stroke="#86c9e6" stroke-width="0.7"/>
<polyline points="448.55,177.07 455.00,191.94 461.45,194.19 467.90,194.68 474.35,201.11 480.80,200.55 487.25,209.39 493.70,209.39 500.15,209.39 506.60,209.39" fill="none" stroke="#8cc4dc" stroke-width="1.2"/>
<circle cx="448.55" cy="177.07" r="1.7" fill="#3d82a4"/>
<circle cx="455.00" cy="191.94" r="1.7" fill="#3d82a4"/>
<circle cx="461.45" cy="194.19" r="1.7" fill="#3d82a4"/>
<circle cx="467.90" cy="194.68" r="1.7" fill="#3d82a4"/>
<circle cx="474.35" cy="201.11" r="1.7" fill="#3d82a4"/>
<circle cx="480.80" cy="200.55" r="1.7" fill="#3d82a4"/>
<circle cx="487.25" cy="209.39" r="1.7" fill="#3d82a4"/>
<circle cx="493.70" cy="209.39" r="1.7" fill="#3d82a4"/>
<circle cx="500.15" cy="209.39" r="1.7" fill="#3d82a4"/>
<circle cx="506.60" cy="209.39" r="1.7" fill="#3d82a4"/>
<line x1="448.55" y1="171.60" x2="448.55" y2="189.77" stroke="#d06a84" stroke-width="0.85"/>
<line x1="447.35" y1="171.60" x2="449.75" y2="171.60" stroke="#d06a84" stroke-width="0.7"/>
<line x1="447.35" y1="189.77" x2="449.75" y2="189.77" stroke="#d06a84" stroke-width="0.7"/>
<line x1="455.00" y1="165.57" x2="455.00" y2="200.95" stroke="#d06a84" stroke-width="0.85"/>
<line x1="453.80" y1="165.57" x2="456.20" y2="165.57" stroke="#d06a84" stroke-width="0.7"/>
<line x1="453.80" y1="200.95" x2="456.20" y2="200.95" stroke="#d06a84" stroke-width="0.7"/>
<line x1="461.45" y1="165.57" x2="461.45" y2="200.95" stroke="#d06a84" stroke-width="0.85"/>
<line x1="460.25" y1="165.57" x2="462.65" y2="165.57" stroke="#d06a84" stroke-width="0.7"/>
<line x1="460.25" y1="200.95" x2="462.65" y2="200.95" stroke="#d06a84" stroke-width="0.7"/>
<line x1="467.90" y1="165.57" x2="467.90" y2="198.70" stroke="#d06a84" stroke-width="0.85"/>
<line x1="466.70" y1="165.57" x2="469.10" y2="165.57" stroke="#d06a84" stroke-width="0.7"/>
<line x1="466.70" y1="198.70" x2="469.10" y2="198.70" stroke="#d06a84" stroke-width="0.7"/>
<line x1="474.35" y1="166.38" x2="474.35" y2="200.14" stroke="#d06a84" stroke-width="0.85"/>
<line x1="473.15" y1="166.38" x2="475.55" y2="166.38" stroke="#d06a84" stroke-width="0.7"/>
<line x1="473.15" y1="200.14" x2="475.55" y2="200.14" stroke="#d06a84" stroke-width="0.7"/>
<line x1="480.80" y1="164.45" x2="480.80" y2="199.82" stroke="#d06a84" stroke-width="0.85"/>
<line x1="479.60" y1="164.45" x2="482.00" y2="164.45" stroke="#d06a84" stroke-width="0.7"/>
<line x1="479.60" y1="199.82" x2="482.00" y2="199.82" stroke="#d06a84" stroke-width="0.7"/>
<line x1="487.25" y1="186.07" x2="487.25" y2="198.13" stroke="#d06a84" stroke-width="0.85"/>
<line x1="486.05" y1="186.07" x2="488.45" y2="186.07" stroke="#d06a84" stroke-width="0.7"/>
<line x1="486.05" y1="198.13" x2="488.45" y2="198.13" stroke="#d06a84" stroke-width="0.7"/>
<line x1="493.70" y1="190.25" x2="493.70" y2="201.03" stroke="#d06a84" stroke-width="0.85"/>
<line x1="492.50" y1="190.25" x2="494.90" y2="190.25" stroke="#d06a84" stroke-width="0.7"/>
<line x1="492.50" y1="201.03" x2="494.90" y2="201.03" stroke="#d06a84" stroke-width="0.7"/>
<line x1="500.15" y1="189.29" x2="500.15" y2="202.96" stroke="#d06a84" stroke-width="0.85"/>
<line x1="498.95" y1="189.29" x2="501.35" y2="189.29" stroke="#d06a84" stroke-width="0.7"/>
<line x1="498.95" y1="202.96" x2="501.35" y2="202.96" stroke="#d06a84" stroke-width="0.7"/>
<line x1="506.60" y1="185.03" x2="506.60" y2="208.02" stroke="#d06a84" stroke-width="0.85"/>
<line x1="505.40" y1="185.03" x2="507.80" y2="185.03" stroke="#d06a84" stroke-width="0.7"/>
<line x1="505.40" y1="208.02" x2="507.80" y2="208.02" stroke="#d06a84" stroke-width="0.7"/>
<polyline points="448.55,180.69 455.00,183.26 461.45,183.26 467.90,182.13 474.35,183.26 480.80,182.13 487.25,192.10 493.70,195.64 500.15,196.12 506.60,196.53" fill="none" stroke="#8c1538" stroke-width="0.9"/>
<circle cx="448.55" cy="180.69" r="1.7" fill="#8c1538"/>
<circle cx="455.00" cy="183.26" r="1.7" fill="#8c1538"/>
<circle cx="461.45" cy="183.26" r="1.7" fill="#8c1538"/>
<circle cx="467.90" cy="182.13" r="1.7" fill="#8c1538"/>
<circle cx="474.35" cy="183.26" r="1.7" fill="#8c1538"/>
<circle cx="480.80" cy="182.13" r="1.7" fill="#8c1538"/>
<circle cx="487.25" cy="192.10" r="1.7" fill="#8c1538"/>
<circle cx="493.70" cy="195.64" r="1.7" fill="#8c1538"/>
<circle cx="500.15" cy="196.12" r="1.7" fill="#8c1538"/>
<circle cx="506.60" cy="196.53" r="1.7" fill="#8c1538"/>
<circle cx="467.70" cy="159.80" r="0.95" fill="#333"/>
<circle cx="472.85" cy="157.90" r="0.95" fill="#333"/>
<circle cx="475.75" cy="157.90" r="0.95" fill="#333"/>
<circle cx="480.60" cy="154.40" r="0.95" fill="#333"/>
<circle cx="483.15" cy="179.40" r="0.95" fill="#333"/>
<circle cx="486.05" cy="179.40" r="0.95" fill="#333"/>
<circle cx="488.95" cy="179.40" r="0.95" fill="#333"/>
<circle cx="491.85" cy="179.40" r="0.95" fill="#333"/>
<circle cx="490.80" cy="182.70" r="0.95" fill="#333"/>
<circle cx="493.70" cy="182.70" r="0.95" fill="#333"/>
<circle cx="496.60" cy="182.70" r="0.95" fill="#333"/>
<circle cx="498.85" cy="185.80" r="0.95" fill="#333"/>
<circle cx="501.75" cy="185.80" r="0.95" fill="#333"/>
<circle cx="506.50" cy="179.00" r="0.95" fill="#333"/>
<line x1="442.10" y1="144.08" x2="442.10" y2="211.90" stroke="#1a1a1a" stroke-width="1.1"/>
<line x1="439.70" y1="211.60" x2="508.80" y2="211.60" stroke="#1a1a1a" stroke-width="1.3"/>
<line x1="438.90" y1="211.40" x2="442.10" y2="211.40" stroke="#1a1a1a" stroke-width="0.9"/>
<text x="436.00" y="214.19" font-size="7.2" text-anchor="end" fill="#2e2e2e" stroke="#2e2e2e" stroke-width="0.2">0</text>
<line x1="438.90" y1="195.32" x2="442.10" y2="195.32" stroke="#1a1a1a" stroke-width="0.9"/>
<text x="436.00" y="198.11" font-size="7.2" text-anchor="end" fill="#2e2e2e" stroke="#2e2e2e" stroke-width="0.2" textLength="7.00" lengthAdjust="spacingAndGlyphs">20</text>
<line x1="438.90" y1="179.24" x2="442.10" y2="179.24" stroke="#1a1a1a" stroke-width="0.9"/>
<text x="436.00" y="182.03" font-size="7.2" text-anchor="end" fill="#2e2e2e" stroke="#2e2e2e" stroke-width="0.2" textLength="7.00" lengthAdjust="spacingAndGlyphs">40</text>
<line x1="438.90" y1="163.16" x2="442.10" y2="163.16" stroke="#1a1a1a" stroke-width="0.9"/>
<text x="436.00" y="165.95" font-size="7.2" text-anchor="end" fill="#2e2e2e" stroke="#2e2e2e" stroke-width="0.2" textLength="7.00" lengthAdjust="spacingAndGlyphs">60</text>
<line x1="438.90" y1="147.08" x2="442.10" y2="147.08" stroke="#1a1a1a" stroke-width="0.9"/>
<text x="436.00" y="149.87" font-size="7.2" text-anchor="end" fill="#2e2e2e" stroke="#2e2e2e" stroke-width="0.2" textLength="7.00" lengthAdjust="spacingAndGlyphs">80</text>
<line x1="442.10" y1="211.40" x2="442.10" y2="214.00" stroke="#1a1a1a" stroke-width="0.9"/>
<text x="441.90" y="223.50" font-size="6.4" text-anchor="middle" fill="#2e2e2e" stroke="#2e2e2e" stroke-width="0.2">0</text>
<line x1="448.55" y1="211.40" x2="448.55" y2="214.00" stroke="#1a1a1a" stroke-width="0.9"/>
<text x="448.35" y="223.50" font-size="6.4" text-anchor="middle" fill="#2e2e2e" stroke="#2e2e2e" stroke-width="0.2">1</text>
<line x1="455.00" y1="211.40" x2="455.00" y2="214.00" stroke="#1a1a1a" stroke-width="0.9"/>
<text x="454.80" y="223.50" font-size="6.4" text-anchor="middle" fill="#2e2e2e" stroke="#2e2e2e" stroke-width="0.2">2</text>
<line x1="461.45" y1="211.40" x2="461.45" y2="214.00" stroke="#1a1a1a" stroke-width="0.9"/>
<text x="461.25" y="223.50" font-size="6.4" text-anchor="middle" fill="#2e2e2e" stroke="#2e2e2e" stroke-width="0.2">3</text>
<line x1="467.90" y1="211.40" x2="467.90" y2="214.00" stroke="#1a1a1a" stroke-width="0.9"/>
<text x="467.70" y="223.50" font-size="6.4" text-anchor="middle" fill="#2e2e2e" stroke="#2e2e2e" stroke-width="0.2">4</text>
<line x1="474.35" y1="211.40" x2="474.35" y2="214.00" stroke="#1a1a1a" stroke-width="0.9"/>
<text x="474.15" y="223.50" font-size="6.4" text-anchor="middle" fill="#2e2e2e" stroke="#2e2e2e" stroke-width="0.2">5</text>
<line x1="480.80" y1="211.40" x2="480.80" y2="214.00" stroke="#1a1a1a" stroke-width="0.9"/>
<text x="480.60" y="223.50" font-size="6.4" text-anchor="middle" fill="#2e2e2e" stroke="#2e2e2e" stroke-width="0.2">6</text>
<line x1="487.25" y1="211.40" x2="487.25" y2="214.00" stroke="#1a1a1a" stroke-width="0.9"/>
<text x="487.05" y="223.50" font-size="6.4" text-anchor="middle" fill="#2e2e2e" stroke="#2e2e2e" stroke-width="0.2">7</text>
<line x1="493.70" y1="211.40" x2="493.70" y2="214.00" stroke="#1a1a1a" stroke-width="0.9"/>
<text x="493.50" y="223.50" font-size="6.4" text-anchor="middle" fill="#2e2e2e" stroke="#2e2e2e" stroke-width="0.2">8</text>
<line x1="500.15" y1="211.40" x2="500.15" y2="214.00" stroke="#1a1a1a" stroke-width="0.9"/>
<text x="499.95" y="223.50" font-size="6.4" text-anchor="middle" fill="#2e2e2e" stroke="#2e2e2e" stroke-width="0.2">9</text>
<line x1="506.60" y1="211.40" x2="506.60" y2="214.00" stroke="#1a1a1a" stroke-width="0.9"/>
<text x="506.40" y="223.50" font-size="6.4" text-anchor="middle" fill="#2e2e2e" stroke="#2e2e2e" stroke-width="0.2" textLength="5.60" lengthAdjust="spacingAndGlyphs">10</text>
<text x="438.80" y="235.30" font-size="8.6" fill="#2e2e2e" stroke="#2e2e2e" stroke-width="0.2" textLength="74.40" lengthAdjust="spacingAndGlyphs">Post transplant (months)</text>
<text x="7.20" y="284.37" font-size="10.2" font-weight="bold" fill="#111" stroke="#111" stroke-width="0.2" textLength="8.00" lengthAdjust="spacingAndGlyphs">D</text>
<rect x="49.80" y="351.05" width="5.0" height="27.55" fill="#e98a80"/>
<rect x="59.00" y="373.58" width="5.0" height="5.02" fill="#b0daf2"/>
<line x1="52.30" y1="330.67" x2="52.30" y2="351.05" stroke="#5a3a3a" stroke-width="0.6"/>
<line x1="51.20" y1="330.67" x2="53.40" y2="330.67" stroke="#5a3a3a" stroke-width="0.6"/>
<line x1="61.50" y1="366.83" x2="61.50" y2="373.58" stroke="#2f77a8" stroke-width="0.6"/>
<line x1="60.40" y1="366.83" x2="62.60" y2="366.83" stroke="#2f77a8" stroke-width="0.6"/>
<circle cx="52.30" cy="324.07" r="1.05" fill="#5e0a1e"/>
<circle cx="51.40" cy="349.18" r="1.05" fill="#5e0a1e"/>
<circle cx="53.20" cy="362.81" r="1.05" fill="#5e0a1e"/>
<circle cx="51.80" cy="369.99" r="1.05" fill="#5e0a1e"/>
<circle cx="52.90" cy="359.95" r="1.05" fill="#5e0a1e"/>
<circle cx="61.50" cy="358.94" r="1.0" fill="#307cb0"/>
<circle cx="60.50" cy="371.43" r="1.0" fill="#307cb0"/>
<circle cx="62.50" cy="375.73" r="1.0" fill="#307cb0"/>
<circle cx="61.00" cy="377.17" r="1.0" fill="#307cb0"/>
<circle cx="62.10" cy="374.30" r="1.0" fill="#307cb0"/>
<circle cx="61.50" cy="377.88" r="1.0" fill="#307cb0"/>
<line x1="56.90" y1="378.60" x2="56.90" y2="380.80" stroke="#222" stroke-width="0.8"/>
<text x="58.30" y="388.80" font-size="7.0" text-anchor="end" fill="#2e2e2e" stroke="#2e2e2e" stroke-width="0.2" transform="rotate(-45 58.30 388.80)">Whole BM</text>
<rect x="68.90" y="364.97" width="5.0" height="13.63" fill="#e98a80"/>
<rect x="78.10" y="376.02" width="5.0" height="2.58" fill="#b0daf2"/>
<line x1="71.40" y1="353.49" x2="71.40" y2="364.97" stroke="#5a3a3a" stroke-width="0.6"/>
<line x1="70.30" y1="353.49" x2="72.50" y2="353.49" stroke="#5a3a3a" stroke-width="0.6"/>
<line x1="80.60" y1="372.57" x2="80.60" y2="376.02" stroke="#2f77a8" stroke-width="0.6"/>
<line x1="79.50" y1="372.57" x2="81.70" y2="372.57" stroke="#2f77a8" stroke-width="0.6"/>
<circle cx="71.40" cy="348.47" r="1.05" fill="#5e0a1e"/>
<circle cx="70.50" cy="364.25" r="1.05" fill="#5e0a1e"/>
<circle cx="72.30" cy="369.99" r="1.05" fill="#5e0a1e"/>
<circle cx="70.90" cy="372.14" r="1.05" fill="#5e0a1e"/>
<circle cx="72.00" cy="367.12" r="1.05" fill="#5e0a1e"/>
<circle cx="80.60" cy="369.27" r="1.0" fill="#307cb0"/>
<circle cx="79.60" cy="374.30" r="1.0" fill="#307cb0"/>
<circle cx="81.60" cy="377.17" r="1.0" fill="#307cb0"/>
<circle cx="80.10" cy="377.88" r="1.0" fill="#307cb0"/>
<circle cx="81.20" cy="375.73" r="1.0" fill="#307cb0"/>
<line x1="76.00" y1="378.60" x2="76.00" y2="380.80" stroke="#222" stroke-width="0.8"/>
<text x="77.40" y="388.80" font-size="7.0" text-anchor="end" fill="#2e2e2e" stroke="#2e2e2e" stroke-width="0.2" transform="rotate(-45 77.40 388.80)">LSK</text>
<rect x="88.00" y="372.14" width="5.0" height="6.46" fill="#e98a80"/>
<rect x="97.20" y="377.45" width="5.0" height="1.15" fill="#b0daf2"/>
<line x1="90.50" y1="370.71" x2="90.50" y2="372.14" stroke="#5a3a3a" stroke-width="0.6"/>
<line x1="89.40" y1="370.71" x2="91.60" y2="370.71" stroke="#5a3a3a" stroke-width="0.6"/>
<line x1="99.70" y1="376.45" x2="99.70" y2="377.45" stroke="#2f77a8" stroke-width="0.6"/>
<line x1="98.60" y1="376.45" x2="100.80" y2="376.45" stroke="#2f77a8" stroke-width="0.6"/>
<circle cx="90.50" cy="371.43" r="1.05" fill="#5e0a1e"/>
<circle cx="89.60" cy="371.71" r="1.05" fill="#5e0a1e"/>
<circle cx="91.40" cy="372.57" r="1.05" fill="#5e0a1e"/>
<circle cx="90.00" cy="373.15" r="1.05" fill="#5e0a1e"/>
<circle cx="99.70" cy="376.45" r="1.0" fill="#307cb0"/>
<circle cx="98.70" cy="377.88" r="1.0" fill="#307cb0"/>
<circle cx="100.70" cy="377.17" r="1.0" fill="#307cb0"/>
<line x1="95.10" y1="378.60" x2="95.10" y2="380.80" stroke="#222" stroke-width="0.8"/>
<text x="96.50" y="388.80" font-size="7.0" text-anchor="end" fill="#2e2e2e" stroke="#2e2e2e" stroke-width="0.2" transform="rotate(-45 96.50 388.80)">LT-HSC</text>
<rect x="107.10" y="373.00" width="5.0" height="5.60" fill="#e98a80"/>
<rect x="116.30" y="376.88" width="5.0" height="1.72" fill="#b0daf2"/>
<line x1="109.60" y1="362.24" x2="109.60" y2="373.00" stroke="#5a3a3a" stroke-width="0.6"/>
<line x1="108.50" y1="362.24" x2="110.70" y2="362.24" stroke="#5a3a3a" stroke-width="0.6"/>
<line x1="118.80" y1="374.01" x2="118.80" y2="376.88" stroke="#2f77a8" stroke-width="0.6"/>
<line x1="117.70" y1="374.01" x2="119.90" y2="374.01" stroke="#2f77a8" stroke-width="0.6"/>
<circle cx="109.60" cy="357.65" r="1.05" fill="#5e0a1e"/>
<circle cx="108.70" cy="372.86" r="1.05" fill="#5e0a1e"/>
<circle cx="110.50" cy="377.17" r="1.05" fill="#5e0a1e"/>
<circle cx="109.10" cy="377.88" r="1.05" fill="#5e0a1e"/>
<circle cx="118.80" cy="370.56" r="1.0" fill="#307cb0"/>
<circle cx="117.80" cy="375.73" r="1.0" fill="#307cb0"/>
<circle cx="119.80" cy="377.17" r="1.0" fill="#307cb0"/>
<line x1="114.20" y1="378.60" x2="114.20" y2="380.80" stroke="#222" stroke-width="0.8"/>
<text x="115.60" y="388.80" font-size="7.0" text-anchor="end" fill="#2e2e2e" stroke="#2e2e2e" stroke-width="0.2" transform="rotate(-45 115.60 388.80)">ST-HSC</text>
<rect x="126.20" y="370.13" width="5.0" height="8.47" fill="#e98a80"/>
<rect x="135.40" y="377.17" width="5.0" height="1.44" fill="#b0daf2"/>
<line x1="128.70" y1="358.08" x2="128.70" y2="370.13" stroke="#5a3a3a" stroke-width="0.6"/>
<line x1="127.60" y1="358.08" x2="129.80" y2="358.08" stroke="#5a3a3a" stroke-width="0.6"/>
<line x1="137.90" y1="375.73" x2="137.90" y2="377.17" stroke="#2f77a8" stroke-width="0.6"/>
<line x1="136.80" y1="375.73" x2="139.00" y2="375.73" stroke="#2f77a8" stroke-width="0.6"/>
<circle cx="128.70" cy="353.20" r="1.05" fill="#5e0a1e"/>
<circle cx="127.80" cy="369.99" r="1.05" fill="#5e0a1e"/>
<circle cx="129.60" cy="375.73" r="1.05" fill="#5e0a1e"/>
<circle cx="128.20" cy="377.17" r="1.05" fill="#5e0a1e"/>
<circle cx="137.90" cy="373.86" r="1.0" fill="#307cb0"/>
<circle cx="136.90" cy="377.17" r="1.0" fill="#307cb0"/>
<circle cx="138.90" cy="377.88" r="1.0" fill="#307cb0"/>
<line x1="133.30" y1="378.60" x2="133.30" y2="380.80" stroke="#222" stroke-width="0.8"/>
<text x="134.70" y="388.80" font-size="7.0" text-anchor="end" fill="#2e2e2e" stroke="#2e2e2e" stroke-width="0.2" transform="rotate(-45 134.70 388.80)">MPP</text>
<rect x="145.30" y="361.09" width="5.0" height="17.51" fill="#e98a80"/>
<rect x="154.50" y="375.01" width="5.0" height="3.59" fill="#b0daf2"/>
<line x1="147.80" y1="344.59" x2="147.80" y2="361.09" stroke="#5a3a3a" stroke-width="0.6"/>
<line x1="146.70" y1="344.59" x2="148.90" y2="344.59" stroke="#5a3a3a" stroke-width="0.6"/>
<line x1="157.00" y1="367.84" x2="157.00" y2="375.01" stroke="#2f77a8" stroke-width="0.6"/>
<line x1="155.90" y1="367.84" x2="158.10" y2="367.84" stroke="#2f77a8" stroke-width="0.6"/>
<circle cx="147.80" cy="337.85" r="1.05" fill="#5e0a1e"/>
<circle cx="146.90" cy="355.64" r="1.05" fill="#5e0a1e"/>
<circle cx="148.70" cy="364.25" r="1.05" fill="#5e0a1e"/>
<circle cx="147.30" cy="372.86" r="1.05" fill="#5e0a1e"/>
<circle cx="157.00" cy="364.39" r="1.0" fill="#307cb0"/>
<circle cx="156.00" cy="374.30" r="1.0" fill="#307cb0"/>
<circle cx="158.00" cy="376.45" r="1.0" fill="#307cb0"/>
<circle cx="156.50" cy="377.88" r="1.0" fill="#307cb0"/>
<line x1="152.40" y1="378.60" x2="152.40" y2="380.80" stroke="#222" stroke-width="0.8"/>
<text x="153.80" y="388.80" font-size="7.0" text-anchor="end" fill="#2e2e2e" stroke="#2e2e2e" stroke-width="0.2" transform="rotate(-45 153.80 388.80)">LK</text>
<rect x="164.40" y="356.64" width="5.0" height="21.96" fill="#e98a80"/>
<rect x="173.60" y="374.30" width="5.0" height="4.31" fill="#b0daf2"/>
<line x1="166.90" y1="336.27" x2="166.90" y2="356.64" stroke="#5a3a3a" stroke-width="0.6"/>
<line x1="165.80" y1="336.27" x2="168.00" y2="336.27" stroke="#5a3a3a" stroke-width="0.6"/>
<line x1="176.10" y1="368.84" x2="176.10" y2="374.30" stroke="#2f77a8" stroke-width="0.6"/>
<line x1="175.00" y1="368.84" x2="177.20" y2="368.84" stroke="#2f77a8" stroke-width="0.6"/>
<circle cx="166.90" cy="326.22" r="1.05" fill="#5e0a1e"/>
<circle cx="166.00" cy="349.90" r="1.05" fill="#5e0a1e"/>
<circle cx="167.80" cy="358.51" r="1.05" fill="#5e0a1e"/>
<circle cx="166.40" cy="364.25" r="1.05" fill="#5e0a1e"/>
<circle cx="176.10" cy="364.39" r="1.0" fill="#307cb0"/>
<circle cx="175.10" cy="371.43" r="1.0" fill="#307cb0"/>
<circle cx="177.10" cy="374.30" r="1.0" fill="#307cb0"/>
<circle cx="175.60" cy="376.45" r="1.0" fill="#307cb0"/>
<line x1="171.50" y1="378.60" x2="171.50" y2="380.80" stroke="#222" stroke-width="0.8"/>
<text x="172.90" y="388.80" font-size="7.0" text-anchor="end" fill="#2e2e2e" stroke="#2e2e2e" stroke-width="0.2" transform="rotate(-45 172.90 388.80)">CMP</text>
<rect x="183.50" y="350.47" width="5.0" height="28.13" fill="#e98a80"/>
<rect x="192.70" y="376.45" width="5.0" height="2.15" fill="#b0daf2"/>
<line x1="186.00" y1="325.79" x2="186.00" y2="350.47" stroke="#5a3a3a" stroke-width="0.6"/>
<line x1="184.90" y1="325.79" x2="187.10" y2="325.79" stroke="#5a3a3a" stroke-width="0.6"/>
<line x1="195.20" y1="363.96" x2="195.20" y2="376.45" stroke="#2f77a8" stroke-width="0.6"/>
<line x1="194.10" y1="363.96" x2="196.30" y2="363.96" stroke="#2f77a8" stroke-width="0.6"/>
<circle cx="186.00" cy="316.18" r="1.05" fill="#5e0a1e"/>
<circle cx="185.10" cy="342.73" r="1.05" fill="#5e0a1e"/>
<circle cx="186.90" cy="355.64" r="1.05" fill="#5e0a1e"/>
<circle cx="185.50" cy="367.12" r="1.05" fill="#5e0a1e"/>
<circle cx="195.20" cy="356.07" r="1.0" fill="#307cb0"/>
<circle cx="194.20" cy="372.86" r="1.0" fill="#307cb0"/>
<circle cx="196.20" cy="375.73" r="1.0" fill="#307cb0"/>
<circle cx="194.70" cy="377.17" r="1.0" fill="#307cb0"/>
<line x1="190.60" y1="378.60" x2="190.60" y2="380.80" stroke="#222" stroke-width="0.8"/>
<text x="192.00" y="388.80" font-size="7.0" text-anchor="end" fill="#2e2e2e" stroke="#2e2e2e" stroke-width="0.2" transform="rotate(-45 192.00 388.80)">GMP</text>
<rect x="202.60" y="374.73" width="5.0" height="3.87" fill="#e98a80"/>
<rect x="211.80" y="377.88" width="5.0" height="0.72" fill="#b0daf2"/>
<line x1="205.10" y1="364.54" x2="205.10" y2="374.73" stroke="#5a3a3a" stroke-width="0.6"/>
<line x1="204.00" y1="364.54" x2="206.20" y2="364.54" stroke="#5a3a3a" stroke-width="0.6"/>
<line x1="214.30" y1="377.45" x2="214.30" y2="377.88" stroke="#2f77a8" stroke-width="0.6"/>
<line x1="213.20" y1="377.45" x2="215.40" y2="377.45" stroke="#2f77a8" stroke-width="0.6"/>
<circle cx="205.10" cy="357.36" r="1.05" fill="#5e0a1e"/>
<circle cx="204.20" cy="374.30" r="1.05" fill="#5e0a1e"/>
<circle cx="206.00" cy="377.17" r="1.05" fill="#5e0a1e"/>
<circle cx="214.30" cy="377.45" r="1.0" fill="#307cb0"/>
<circle cx="213.30" cy="377.88" r="1.0" fill="#307cb0"/>
<line x1="209.70" y1="378.60" x2="209.70" y2="380.80" stroke="#222" stroke-width="0.8"/>
<text x="211.10" y="388.80" font-size="7.0" text-anchor="end" fill="#2e2e2e" stroke="#2e2e2e" stroke-width="0.2" transform="rotate(-45 211.10 388.80)">MEP</text>
<rect x="221.70" y="355.07" width="5.0" height="23.53" fill="#e98a80"/>
<rect x="230.90" y="372.14" width="5.0" height="6.46" fill="#b0daf2"/>
<line x1="224.20" y1="328.95" x2="224.20" y2="355.07" stroke="#5a3a3a" stroke-width="0.6"/>
<line x1="223.10" y1="328.95" x2="225.30" y2="328.95" stroke="#5a3a3a" stroke-width="0.6"/>
<line x1="233.40" y1="364.54" x2="233.40" y2="372.14" stroke="#2f77a8" stroke-width="0.6"/>
<line x1="232.30" y1="364.54" x2="234.50" y2="364.54" stroke="#2f77a8" stroke-width="0.6"/>
<circle cx="224.20" cy="316.90" r="1.05" fill="#5e0a1e"/>
<circle cx="223.30" cy="347.03" r="1.05" fill="#5e0a1e"/>
<circle cx="225.10" cy="358.51" r="1.05" fill="#5e0a1e"/>
<circle cx="223.70" cy="367.12" r="1.05" fill="#5e0a1e"/>
<circle cx="233.40" cy="364.25" r="1.0" fill="#307cb0"/>
<circle cx="232.40" cy="369.99" r="1.0" fill="#307cb0"/>
<circle cx="234.40" cy="372.86" r="1.0" fill="#307cb0"/>
<circle cx="232.90" cy="374.30" r="1.0" fill="#307cb0"/>
<circle cx="234.00" cy="375.73" r="1.0" fill="#307cb0"/>
<line x1="228.80" y1="378.60" x2="228.80" y2="380.80" stroke="#222" stroke-width="0.8"/>
<text x="230.20" y="388.80" font-size="7.0" text-anchor="end" fill="#2e2e2e" stroke="#2e2e2e" stroke-width="0.2" transform="rotate(-45 230.20 388.80)">B220<tspan baseline-shift="3.0" font-size="4.6">+</tspan></text>
<rect x="240.80" y="355.64" width="5.0" height="22.96" fill="#e98a80"/>
<rect x="250.00" y="376.45" width="5.0" height="2.15" fill="#b0daf2"/>
<line x1="243.30" y1="335.55" x2="243.30" y2="355.64" stroke="#5a3a3a" stroke-width="0.6"/>
<line x1="242.20" y1="335.55" x2="244.40" y2="335.55" stroke="#5a3a3a" stroke-width="0.6"/>
<line x1="252.50" y1="373.58" x2="252.50" y2="376.45" stroke="#2f77a8" stroke-width="0.6"/>
<line x1="251.40" y1="373.58" x2="253.60" y2="373.58" stroke="#2f77a8" stroke-width="0.6"/>
<circle cx="243.30" cy="328.95" r="1.05" fill="#5e0a1e"/>
<circle cx="242.40" cy="349.90" r="1.05" fill="#5e0a1e"/>
<circle cx="244.20" cy="364.25" r="1.05" fill="#5e0a1e"/>
<circle cx="242.80" cy="372.86" r="1.05" fill="#5e0a1e"/>
<circle cx="252.50" cy="369.99" r="1.0" fill="#307cb0"/>
<circle cx="251.50" cy="375.73" r="1.0" fill="#307cb0"/>
<circle cx="253.50" cy="377.17" r="1.0" fill="#307cb0"/>
<line x1="247.90" y1="378.60" x2="247.90" y2="380.80" stroke="#222" stroke-width="0.8"/>
<text x="249.30" y="388.80" font-size="7.0" text-anchor="end" fill="#2e2e2e" stroke="#2e2e2e" stroke-width="0.2" transform="rotate(-45 249.30 388.80)">CD3<tspan baseline-shift="3.0" font-size="4.6">+</tspan></text>
<rect x="259.90" y="344.73" width="5.0" height="33.87" fill="#e98a80"/>
<rect x="269.10" y="369.99" width="5.0" height="8.61" fill="#b0daf2"/>
<line x1="262.40" y1="327.37" x2="262.40" y2="344.73" stroke="#5a3a3a" stroke-width="0.6"/>
<line x1="261.30" y1="327.37" x2="263.50" y2="327.37" stroke="#5a3a3a" stroke-width="0.6"/>
<line x1="271.60" y1="362.81" x2="271.60" y2="369.99" stroke="#2f77a8" stroke-width="0.6"/>
<line x1="270.50" y1="362.81" x2="272.70" y2="362.81" stroke="#2f77a8" stroke-width="0.6"/>
<circle cx="262.40" cy="321.20" r="1.05" fill="#5e0a1e"/>
<circle cx="261.50" cy="338.42" r="1.05" fill="#5e0a1e"/>
<circle cx="263.30" cy="349.90" r="1.05" fill="#5e0a1e"/>
<circle cx="261.90" cy="358.51" r="1.05" fill="#5e0a1e"/>
<circle cx="271.60" cy="353.77" r="1.0" fill="#307cb0"/>
<circle cx="270.60" cy="364.25" r="1.0" fill="#307cb0"/>
<circle cx="272.60" cy="368.56" r="1.0" fill="#307cb0"/>
<circle cx="271.10" cy="372.86" r="1.0" fill="#307cb0"/>
<circle cx="272.20" cy="375.73" r="1.0" fill="#307cb0"/>
<line x1="267.00" y1="378.60" x2="267.00" y2="380.80" stroke="#222" stroke-width="0.8"/>
<text x="268.40" y="388.80" font-size="7.0" text-anchor="end" fill="#2e2e2e" stroke="#2e2e2e" stroke-width="0.2" transform="rotate(-45 268.40 388.80)">CD11b<tspan baseline-shift="3.0" font-size="4.6">+</tspan>Gr-1<tspan baseline-shift="3.0" font-size="4.6">+</tspan></text>
<rect x="279.00" y="344.30" width="5.0" height="34.30" fill="#e98a80"/>
<rect x="288.20" y="374.30" width="5.0" height="4.31" fill="#b0daf2"/>
<line x1="281.50" y1="323.50" x2="281.50" y2="344.30" stroke="#5a3a3a" stroke-width="0.6"/>
<line x1="280.40" y1="323.50" x2="282.60" y2="323.50" stroke="#5a3a3a" stroke-width="0.6"/>
<line x1="290.70" y1="366.40" x2="290.70" y2="374.30" stroke="#2f77a8" stroke-width="0.6"/>
<line x1="289.60" y1="366.40" x2="291.80" y2="366.40" stroke="#2f77a8" stroke-width="0.6"/>
<circle cx="281.50" cy="312.59" r="1.05" fill="#5e0a1e"/>
<circle cx="280.60" cy="335.55" r="1.05" fill="#5e0a1e"/>
<circle cx="282.40" cy="347.03" r="1.05" fill="#5e0a1e"/>
<circle cx="281.00" cy="358.51" r="1.05" fill="#5e0a1e"/>
<circle cx="290.70" cy="362.24" r="1.0" fill="#307cb0"/>
<circle cx="289.70" cy="368.56" r="1.0" fill="#307cb0"/>
<circle cx="291.70" cy="372.86" r="1.0" fill="#307cb0"/>
<circle cx="290.20" cy="375.73" r="1.0" fill="#307cb0"/>
<circle cx="291.30" cy="377.17" r="1.0" fill="#307cb0"/>
<line x1="286.10" y1="378.60" x2="286.10" y2="380.80" stroke="#222" stroke-width="0.8"/>
<text x="287.50" y="388.80" font-size="7.0" text-anchor="end" fill="#2e2e2e" stroke="#2e2e2e" stroke-width="0.2" transform="rotate(-45 287.50 388.80)">CD11b<tspan baseline-shift="3.0" font-size="4.6">+</tspan>Gr-1<tspan baseline-shift="3.0" font-size="4.6">−</tspan></text>
<path d="M51.70,306.20 L51.70,297.9 L61.40,297.9 L61.40,340.70" fill="none" stroke="#666" stroke-width="0.75"/>
<circle cx="56.55" cy="294.30" r="0.85" fill="#333"/>
<path d="M70.40,309.10 L70.40,297.9 L80.50,297.9 L80.50,340.70" fill="none" stroke="#666" stroke-width="0.75"/>
<circle cx="75.45" cy="294.30" r="0.85" fill="#333"/>
<path d="M90.00,350.80 L90.00,297.9 L99.00,297.9 L99.00,362.00" fill="none" stroke="#666" stroke-width="0.75"/>
<circle cx="91.70" cy="294.30" r="0.85" fill="#333"/>
<circle cx="94.50" cy="294.30" r="0.85" fill="#333"/>
<circle cx="97.30" cy="294.30" r="0.85" fill="#333"/>
<path d="M147.20,308.40 L147.20,297.9 L156.20,297.9 L156.20,341.30" fill="none" stroke="#666" stroke-width="0.75"/>
<circle cx="151.70" cy="294.30" r="0.85" fill="#333"/>
<path d="M166.50,309.10 L166.50,297.9 L176.00,297.9 L176.00,340.60" fill="none" stroke="#666" stroke-width="0.75"/>
<circle cx="171.25" cy="294.30" r="0.85" fill="#333"/>
<path d="M242.30,309.10 L242.30,297.9 L251.80,297.9 L251.80,340.70" fill="none" stroke="#666" stroke-width="0.75"/>
<circle cx="247.05" cy="294.30" r="0.85" fill="#333"/>
<path d="M261.30,313.60 L261.30,297.9 L271.60,297.9 L271.60,346.30" fill="none" stroke="#666" stroke-width="0.75"/>
<circle cx="266.45" cy="294.30" r="0.85" fill="#333"/>
<path d="M281.10,306.90 L281.10,297.9 L290.50,297.9 L290.50,340.70" fill="none" stroke="#666" stroke-width="0.75"/>
<circle cx="284.40" cy="294.30" r="0.85" fill="#333"/>
<circle cx="287.20" cy="294.30" r="0.85" fill="#333"/>
<line x1="44.80" y1="289.30" x2="44.80" y2="379.00" stroke="#1a1a1a" stroke-width="1.1"/>
<line x1="44.40" y1="378.60" x2="298.50" y2="378.60" stroke="#1a1a1a" stroke-width="1.2"/>
<line x1="42.40" y1="378.60" x2="44.80" y2="378.60" stroke="#222" stroke-width="0.8"/>
<text x="38.90" y="381.18" font-size="6.6" text-anchor="end" fill="#444" stroke="#444" stroke-width="0.1">0</text>
<line x1="42.40" y1="349.90" x2="44.80" y2="349.90" stroke="#222" stroke-width="0.8"/>
<text x="38.90" y="352.48" font-size="6.6" text-anchor="end" fill="#444" stroke="#444" stroke-width="0.1">20</text>
<line x1="42.40" y1="321.20" x2="44.80" y2="321.20" stroke="#222" stroke-width="0.8"/>
<text x="38.90" y="323.78" font-size="6.6" text-anchor="end" fill="#444" stroke="#444" stroke-width="0.1">40</text>
<line x1="42.40" y1="292.50" x2="44.80" y2="292.50" stroke="#222" stroke-width="0.8"/>
<text x="38.90" y="295.08" font-size="6.6" text-anchor="end" fill="#444" stroke="#444" stroke-width="0.1">60</text>
<text x="25.90" y="334.70" font-size="8.0" text-anchor="middle" fill="#2e2e2e" stroke="#2e2e2e" stroke-width="0.2" textLength="68.80" lengthAdjust="spacingAndGlyphs" transform="rotate(-90 25.90 334.70)">Chimerism (CD45.2, %)</text>
<rect x="300.8" y="301.4" width="9.1" height="5.1" fill="#c8102e"/>
<rect x="300.8" y="309.7" width="9.1" height="5.0" fill="#3aa5d6"/>
<text x="312.90" y="306.28" font-size="6.6" fill="#2e2e2e" stroke="#2e2e2e" stroke-width="0.2" textLength="21.80" lengthAdjust="spacingAndGlyphs">Control</text>
<text x="312.90" y="314.68" font-size="6.6" fill="#2e2e2e" stroke="#2e2e2e" stroke-width="0.2" textLength="23.90" lengthAdjust="spacingAndGlyphs"><tspan font-style="italic">Trsp</tspan> KO</text>
<rect x="0" y="0" width="520" height="1" fill="#5a5a5a"/>
<rect x="0" y="0" width="1" height="422" fill="#5a5a5a"/>
<rect x="518.5" y="0" width="1.5" height="422" fill="#4a4a4a"/>
<rect x="0" y="420.5" width="520" height="1.5" fill="#4a4a4a"/>
</svg>
</body></html>
